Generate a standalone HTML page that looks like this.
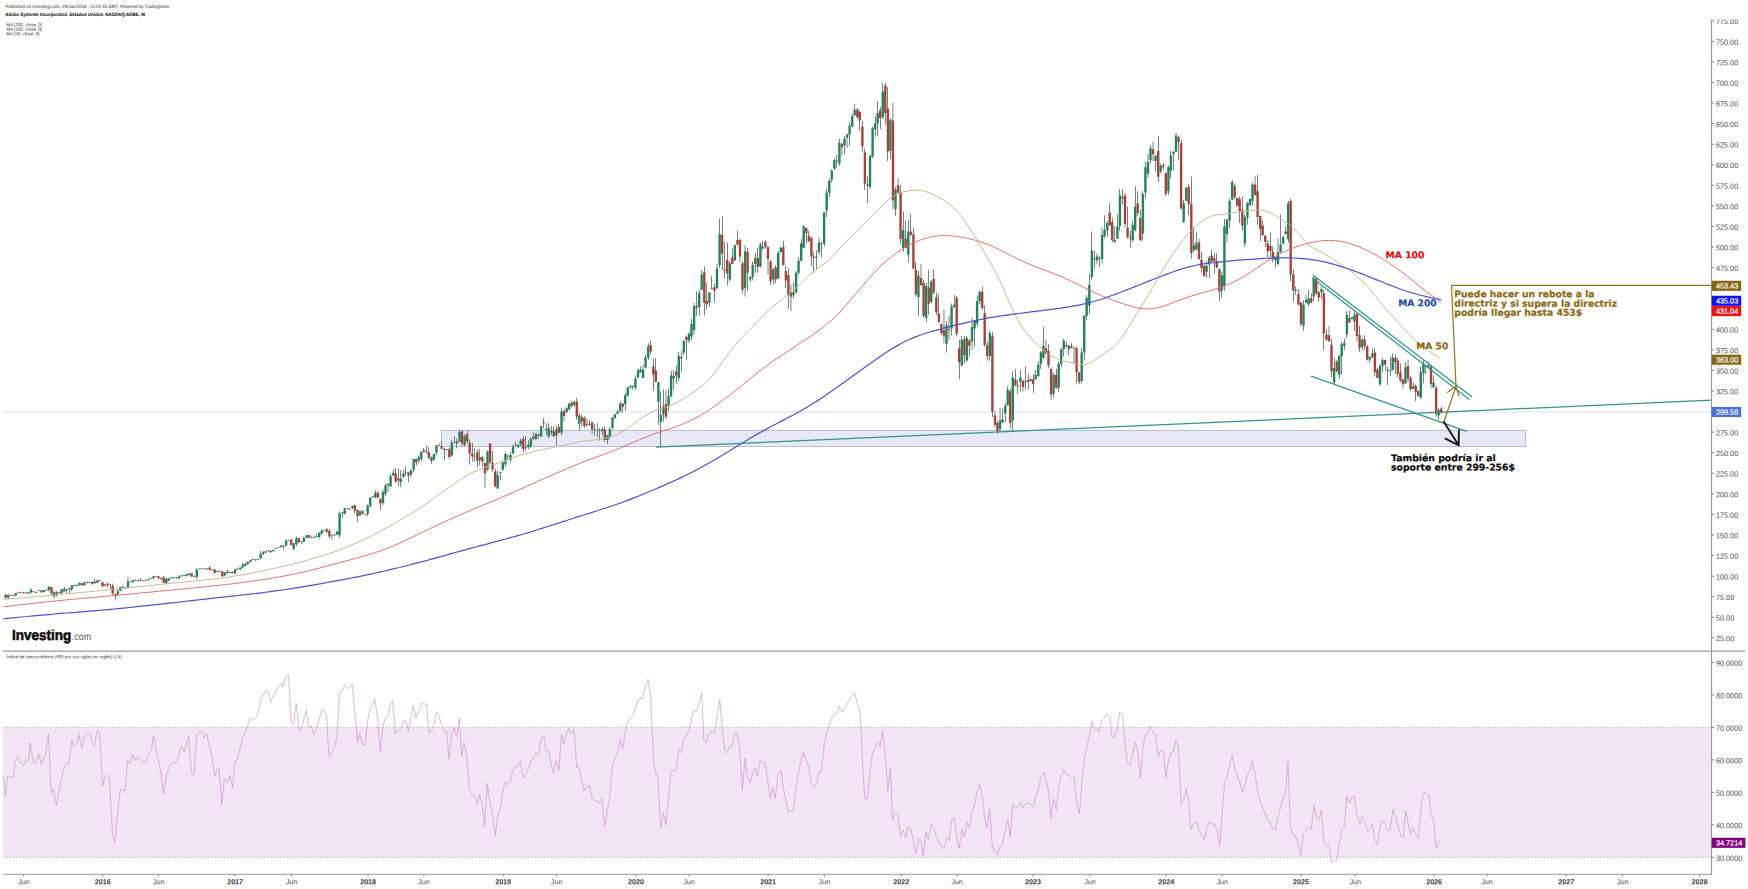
<!DOCTYPE html>
<html lang="es"><head><meta charset="utf-8"><title>ADBE</title>
<style>html,body{margin:0;padding:0;background:#fff}body{width:1748px;height:889px;overflow:hidden}svg{display:block}text{font-family:"Liberation Sans",Arial,sans-serif}text.an{font-family:"DejaVu Sans",Verdana,sans-serif;font-weight:bold}</style></head><body>
<svg width="1748" height="889" viewBox="0 0 1748 889">
<rect width="1748" height="889" fill="#fff"/>
<rect x="3" y="727.4" width="1708.5" height="130" fill="#f2e4f4"/>
<path d="M3 727.4H1711.5M3 857.4H1711.5" stroke="#bea7c3" stroke-width="0.8" stroke-dasharray="1.6 1.7" fill="none"/>
<path d="M3 411.95H1711.5" stroke="#e2e5f2" stroke-width="1.3" fill="none"/>
<rect x="441.3" y="430.4" width="1084.4" height="16.2" fill="#e7e9f6" stroke="#a9afd2" stroke-width="0.8"/>
<path d="M5.5 593.9V598.8M8.5 594.5V598.7M10.5 594.8V595.6M13.5 594.7V596.2M15.5 593V596.4M18.5 591.5V593.2M20.5 591.9V593.8M23.5 592.1V593.9M25.95 592.4V593.7M28.5 591.7V594.1M31.05 588.3V593.6M33.5 591.1V592.6M36.5 591.7V593.2M38.5 589.7V591.4M41.5 590.1V592.7M43.5 590V592.4M46.5 589.6V590.6M48.5 586.3V591.3M51.5 586.8V595.4M54 590.8V598.6M56.5 590.9V596.4M59.5 591.5V593.4M61.5 588.6V594.2M64.5 587V591.5M66.5 588.9V593M69.5 587.4V593M71.5 585V591M74.5 584.7V586.3M76.95 584.3V586.5M79.5 582.7V585.5M82.05 582.7V585.3M84.5 581.4V585.9M87.5 581.6V583.3M89.5 581.7V583.1M92.5 581.4V584.7M94.5 578.5V583.5M97.5 579.7V582.8M99.5 579.9V581.2M102.5 582.1V587.4M105 584.4V586.2M107.5 582.8V587.5M110.5 584.3V589.6M112.5 583.6V594.8M115.5 593.4V599.9M117.5 589.6V595.4M120.5 587V591M122.5 585.3V587.5M125.5 587.5V588.6M127.95 577.2V587.6M130.5 581V582.4M133.05 579.2V582.5M135.5 579.4V580.5M138.5 579.7V581.9M140.5 578V581.1M143.5 580.1V581.3M145.5 579.6V581M148.5 578.7V580.7M150.5 577.7V578.8M153.5 576.2V579M156 575.8V577.3M158.5 575.6V579.5M161.5 577.5V579.6M163.5 575.8V582.8M166.5 577.7V584.4M168.5 577.7V581.1M171.5 576.9V578.7M173.5 576.9V578.7M176.5 577V578.9M178.95 575.5V579.3M181.5 574.6V576.7M184.05 574.9V576.4M186.5 573.7V576.4M189.5 573.3V575.5M191.5 573V576.7M194.5 575.5V577.1M196.5 568.3V579.1M199.5 568.5V569.3M201.5 568.1V569.3M204.5 568.6V569.4M207 568.3V569.7M209.5 566.5V570.6M212.5 569.1V570.3M214.5 569.2V574M217.5 570.6V572.5M219.5 570.7V571.9M222.5 570.6V577.4M224.5 572V576.2M227.5 569.4V573.3M229.95 571.5V573.3M232.5 571.5V573.3M235.05 568.6V574.5M237.5 568.3V570.2M240.5 567.4V569.8M242.5 563.2V568.6M245.5 563V566M247.5 561.3V564.6M250.5 559.5V562.8M252.5 558.5V560.2M255.5 559V560.8M258 559V560.4M260.5 550.5V558.9M263.5 551.2V554.7M265.5 550.8V553.1M268.5 550.2V551.6M270.5 549.9V552.6M273.5 549.4V551.6M275.5 547.9V548.9M278.5 546.8V548.2M280.95 545.4V547.6M283.5 545.3V549.8M286.05 538.8V546.7M288.5 540V541.2M291.5 539.6V545.1M293.5 543.2V550.2M296.5 536.5V546.1M298.5 537.7V543.4M301.5 541.1V544.2M303.5 536.8V542.1M306.5 535.2V538.3M309 534.8V537.8M311.5 536.2V538.2M314.5 536.4V538.2M316.5 533.5V537.3M319.5 532.6V538.3M321.5 529.3V534.5M324.5 530.1V531.1M326.5 528V533M329.5 528.9V538.2M331.95 534.2V539.5M334.5 534.2V535.9M337.05 531.2V535.2M339.5 511.3V538M342.5 511.9V517.6M344.5 507.9V514.5M347.5 507.7V509.2M349.5 508.3V509.8M352.5 505.5V509.1M354.5 504.6V513.8M357.5 509.4V521.9M360 510.2V516.1M362.5 510V514.5M365.5 514.1V515M367.5 504.5V516M370.5 497.3V506.9M372.5 496.1V497.6M375.5 490.2V498.2M377.5 491.4V497.8M380.5 498.7V510.3M382.95 489.2V505.3M385.5 483.3V496.1M388.05 483.3V491.9M390.5 474V486.8M393.5 469.4V475.6M395.5 467.6V482.8M398.5 468.5V485.7M400.5 470.2V487.2M403.5 469.8V477.7M405.5 466.4V475.8M408.5 471.8V482.2M411 469.6V477.5M413.5 458.7V472.3M416.5 458.7V465.5M418.5 455.2V463.3M421.5 451.7V461.4M423.5 447.9V452.4M426.5 445.3V453.5M428.5 447V458.9M431.5 456.6V463.8M433.95 453.7V461M436.5 445.3V455.1M439.05 443.2V446.3M441.5 441V449.1M444.5 448.2V460.3M446.5 449.1V450.6M449.5 447.8V458.7M451.5 439.7V456.4M454.5 436.3V443.1M456.5 438.5V448.3M459.5 429.4V441.8M462 430.5V446.7M464.5 434.2V446.2M467.5 430.3V443.3M469.5 439.3V464.6M472.5 443.2V461.6M474.5 448.3V461.6M477.5 449.2V467.2M479.5 449.2V465.5M482.5 456V466.4M484.95 462.6V487.8M487.5 450.6V471.4M490.05 443.4V464.2M492.5 450.9V471.6M495.5 468.5V487.3M497.5 470.6V489.1M500.5 471.5V480.5M502.5 460.4V470.8M505.5 451.8V466.8M507.5 454.3V459.9M510.5 452.2V462.5M513 444.4V454.3M515.5 441.9V446.6M518.5 444V447.8M520.5 438.9V446.6M523.5 436.3V452.8M525.5 436.3V450.7M528.5 440.4V449.4M530.5 436.9V448M533.5 432.4V440.2M535.95 432.6V440.3M538.5 433.6V438.6M541.05 425.3V436.9M543.5 418V428.3M546.5 423.6V435.2M548.5 423.2V437.8M551.5 425.8V435.6M553.5 426.2V437.4M556.5 425.8V445.9M558.5 424.1V433M561.5 408.2V435.2M564 409V421.5M566.5 407.2V413.4M569.5 403.1V410.2M571.5 400.5V407.3M574.5 400.7V406.5M576.5 398V419.8M579.5 413.3V430.1M581.5 415V426.6M584.5 416.3V427.8M586.95 418.5V427.1M589.5 419.8V425.8M592.05 421.5V433.9M594.5 424.1V436.1M597.5 423.2V437.4M599.5 427.9V440.8M602.5 427.1V435.2M604.5 426.2V441.7M607.5 434.9V444.2M609.5 427.1V438.8M612.5 417.3V429.6M615 414.1V418.8M617.5 409.9V413.9M620.5 401.4V412.5M622.5 403.4V412.9M625.5 392.8V410.8M627.5 387.2V396.4M630.5 385.8V388.4M632.5 385.4V389.7M635.5 375.5V389.8M637.95 368.3V378.5M640.5 366.4V372.4M643.05 364.6V378.3M645.5 354.5V368.5M648.5 343.2V359.9M650.5 340.2V354.3M653.5 358.6V391.2M655.5 358.2V382.6M658.5 381.5V424.9M660.5 391.4V447.2M663.5 389.3V421.5M666 390.2V419.3M668.5 388.4V411.6M671.5 370.8V397.6M673.5 370.2V389.5M676.5 365.5V383.9M678.5 352V380.7M681.5 350.9V371.8M683.5 340.2V355.2M686.5 335.6V359.9M688.95 332.4V343.2M691.5 319V340.2M694.05 302.8V334.7M696.5 291.5V315.6M699.5 289.8V315.6M701.5 270V290.4M704.5 266.3V315.6M706.5 283V309.6M709.5 292V307M711.5 276.1V289.3M714.5 283.8V302.7M717 264.1V289.8M719.5 218.6V268.5M722.5 216V270.1M724.5 241.8V278.7M727.5 242.6V285.5M729.5 260.8V281.3M732.5 248.6V264.1M734.5 244.4V261.1M737.5 230.6V245.4M739.95 238.5V262.4M742.5 261.4V293.3M745.05 245.2V296.7M747.5 247.8V290.7M750.5 276.6V282.1M752.5 261.5V280.4M755.5 252.9V272.7M757.5 247.8V272.7M760.5 242.6V267.4M762.5 240.9V249.7M765.5 240.2V248.8M768 246.2V274.4M770.5 259.7V285.2M773.5 267.8V284.7M775.5 264.9V283M778.5 251.2V279M780.5 246.6V252.7M783.5 240.9V265.5M785.5 265.8V288.1M788.5 268.4V308.7M790.95 284.7V311.3M793.5 282.1V298.4M796.05 270.9V293.2M798.5 257.2V274.8M801.5 239.3V261.3M803.5 225.5V248.4M806.5 227.6V243.5M808.5 230.6V242.1M811.5 237.3V265.8M813.5 252.1V272.7M816.5 250.4V269.2M819 237.5V254.9M821.5 242.3V257.2M824.5 212.1V246.3M826.5 188.6V216.9M829.5 178.5V197.2M831.5 169.3V182.7M834.5 158.4V170.1M836.5 154.9V167.8M839.5 138.6V166.1M841.95 143.4V155.8M844.5 136.2V154.1M847.05 133.7V148.1M849.5 122.3V145.5M852.5 113.8V127.5M854.5 104.3V115.5M857.5 107.8V118.6M859.5 110.3V130.9M862.5 120.6V152.4M864.5 148.5V190.1M867.5 176.4V203.2M870 154.9V189.5M872.5 126.4V158.4M875.5 116.3V136.9M877.5 100.9V136.1M880.5 106.9V129.2M882.5 82.9V118.9M885.5 82.9V124.9M887.5 87.2V161M890.5 118.9V159.2M892.95 102.6V209.5M895.5 187.2V215.9M898.05 178.1V194.1M900.5 185V243.8M903.5 211.7V251.9M905.5 220.3V248.3M908.5 220.3V262.7M910.5 213.8V236M913.5 228.1V269.2M915.5 261.5V296.7M918.5 271V315.9M921 264.1V285.9M923.5 279.6V317.6M926.5 282.6V322.4M928.5 270.1V314.9M931.5 280.3V303.2M933.5 269.2V294.4M936.5 292.4V315M938.5 294.1V322.4M941.5 323.3V335M943.95 309.7V343.2M946.5 320.9V352.6M949.05 315.7V339.8M951.5 303.4V335.5M954.5 295.1V307.3M956.5 296V336.3M959.5 339.8V379.2M961.5 335.9V366.4M964.5 335.7V363.8M966.5 336.3V361.3M969.5 339V356.9M972 317.5V350.1M974.5 319.6V346.6M977.5 295.3V326.9M979.5 290.3V304.1M982.5 286.7V309.9M984.5 305.2V346.6M987.5 341.5V360.4M989.5 331.2V360.8M992.5 332V417M994.95 411V427.3M997.5 420.7V433.9M1000.05 407.6V431M1002.5 408.4V423.3M1005.5 403.3V422.1M1007.5 386.1V406M1010.5 388.6V428.1M1012.5 371.3V432.2M1015.5 368.9V386.3M1017.5 381V393.8M1020.5 369.8V391.3M1023 379.2V391.3M1025.5 366.4V390.4M1028.5 374.1V389.5M1030.5 378.3V381.8M1033.5 374.1V393M1035.5 369.8V379.8M1038.5 361.4V376.8M1040.5 350.9V368.9M1043.5 326.9V358.7M1045.95 339.8V354M1048.5 344.1V368.1M1051.05 367.2V399.9M1053.5 372.5V397.7M1056.5 368.9V388.8M1058.5 361.2V392.1M1061.5 348.3V366.8M1063.5 338.9V356.1M1066.5 341.5V346.7M1068.5 345.5V355.2M1071.5 343.2V348.6M1074 347.3V363.8M1076.5 346.6V383.5M1079.5 372V384.4M1081.5 347.6V383.5M1084.5 315V360.4M1086.5 295.3V320.2M1089.5 273.8V314.2M1091.5 231.5V279.8M1094.5 250.4V268.7M1096.95 253.2V264.4M1099.5 255.6V267M1102.05 227.3V263.7M1104.5 215.2V238.2M1107.5 221.3V236.9M1109.5 203.2V226M1112.5 217.8V242.2M1114.5 226.4V242.9M1117.5 214.4V239M1119.5 188.9V230.5M1122.5 188.9V204.3M1125 192.9V227.5M1127.5 206.7V238.7M1130.5 230.9V247.9M1132.5 220.6V241.8M1135.5 186.1V231.4M1137.5 191.2V216.3M1140.5 209.5V240.7M1142.5 191.5V240.7M1145.5 161.5V198.3M1147.95 153.5V177.7M1150.5 144.9V163.4M1153.05 141.5V161.2M1155.5 154.7V171.5M1158.5 136.3V182M1160.5 163.7V173.4M1163.5 162.9V169.8M1165.5 172.4V196.1M1168.5 165.5V195.3M1170.5 150.6V178.3M1173.5 151.4V170.6M1176 132.9V151.9M1178.5 135.4V160.3M1181.5 140.1V209.6M1183.5 199.8V223M1186.5 187V201.2M1188.5 184.4V215.2M1191.5 176.6V259M1193.5 227.3V251.9M1196.5 232.4V250.6M1198.95 238.6V259.7M1201.5 252.1V272.6M1204.05 265.4V276.9M1206.5 260.7V277.8M1209.5 256V278.6M1211.5 249.6V262.8M1214.5 253V273.5M1216.5 253V268.2M1219.5 268.3V300.9M1221.5 271.4V297.5M1224.5 218.7V291M1227 219V241.8M1229.5 198.9V228.1M1232.5 180.1V199.9M1234.5 183.5V199.4M1237.5 198.1V206.2M1239.5 196.4V223M1242.5 196.4V230.7M1244.5 214.8V246.9M1247.5 201.5V224.7M1249.95 198.5V206.3M1252.5 182.6V205.3M1255.05 175.8V196.5M1257.5 174.9V224.7M1260.5 215.6V241M1262.5 220.4V236.2M1265.5 235.3V247M1267.5 240.1V257.3M1270.5 232.4V257.2M1272.5 246.9V262.3M1275.5 256.7V267.5M1278 238.4V265.7M1280.5 214.4V252.7M1283.5 236.2V244.7M1285.5 226.4V234.5M1288.5 200.8V242.7M1290.5 198.9V281.2M1293.5 269.2V301.8M1295.5 286.3V294.9M1298.5 288.9V305.4M1300.95 302.3V326.2M1303.5 300.1V331M1306.05 294.9V303.4M1308.5 289.8V306.2M1311.5 293.2V303M1313.5 275.2V301.2M1316.5 277.1V294.8M1318.5 291.1V301.8M1321.5 286.3V299.2M1323.5 289.7V349.8M1326.5 329.2V340.9M1329 325.8V342M1331.5 338.4V377.5M1334.5 357.6V384.6M1336.5 359.9V372.3M1339.5 355.5V379M1341.5 341.5V374.6M1344.5 338.7V349.8M1346.5 311.2V337.9M1349.5 310.4V322.8M1351.95 316.9V319.7M1354.5 311.2V331M1357.05 312.9V341.3M1359.5 325.8V351.8M1362.5 338.1V349.8M1364.5 335.2V350.2M1367.5 345.2V360.6M1369.5 355.8V362.8M1372.5 348.7V358.5M1374.5 348.1V376.6M1377.5 368V378M1380 363.6V385.9M1382.5 358.1V372.3M1385.5 359.4V370.7M1387.5 366.8V385M1390.5 356.5V376.4M1392.5 353.3V370.6M1395.5 354.2V373.9M1397.5 357.7V377.6M1400.5 363.6V382.2M1402.95 379.5V388.4M1405.5 361.8V384.4M1408.05 359.7V381.9M1410.5 376V391.2M1413.5 382.5V389.1M1415.5 384.3V401.4M1418.5 390.4V396.6M1420.5 366.6V398.7M1423.5 360.5V383.3M1425.5 365.1V373.9M1428.5 362V368.2M1431 364.7V387.8M1433.5 375.4V388.2M1436.5 385.7V416.8M1438.5 407.7V419.5M1441.5 406.9V414" stroke="#66766f" stroke-width="0.9" fill="none"/>
<path d="M6.9 594.8h2.4v3h-2.4zM9.5 594.8h2.4v0.7h-2.4zM14.6 593h2.4v2.6h-2.4zM17.1 592.3h2.4v0.7h-2.4zM27.3 592.2h2.4v1.3h-2.4zM29.9 589.6h2.4v3h-2.4zM37.5 590.4h2.4v0.7h-2.4zM42.6 590h2.4v2.1h-2.4zM45.2 589.7h2.4v0.7h-2.4zM47.7 587h2.4v3h-2.4zM52.8 592.2h2.4v4.3h-2.4zM57.9 592.3h2.4v0.7h-2.4zM60.5 589.6h2.4v3.4h-2.4zM63 588.8h2.4v2.6h-2.4zM65.6 589.3h2.4v0.7h-2.4zM70.7 585.3h2.4v4.3h-2.4zM73.2 585.2h2.4v0.7h-2.4zM75.8 585h2.4v0.7h-2.4zM78.3 582.7h2.4v2.6h-2.4zM83.4 582.5h2.4v2.8h-2.4zM86 582.1h2.4v0.7h-2.4zM88.5 582h2.4v0.7h-2.4zM93.6 581.5h2.4v1.7h-2.4zM96.2 580.2h2.4v2.6h-2.4zM116.6 591.3h2.4v3.4h-2.4zM119.1 587h2.4v3.9h-2.4zM121.7 586.7h2.4v0.7h-2.4zM126.8 581.5h2.4v6h-2.4zM129.3 581.5h2.4v0.7h-2.4zM131.9 580.2h2.4v2.1h-2.4zM134.4 579.8h2.4v0.7h-2.4zM139.5 579.8h2.4v0.7h-2.4zM144.6 580.2h2.4v0.7h-2.4zM147.2 579.1h2.4v1h-2.4zM149.7 578h2.4v0.7h-2.4zM152.3 576.2h2.4v2.1h-2.4zM154.8 575.9h2.4v0.7h-2.4zM165 578.8h2.4v4.3h-2.4zM167.6 578.4h2.4v2.1h-2.4zM170.1 577.6h2.4v0.7h-2.4zM172.7 577.3h2.4v0.7h-2.4zM177.8 576.2h2.4v2.1h-2.4zM180.3 575.5h2.4v0.7h-2.4zM182.9 575h2.4v0.7h-2.4zM185.4 574.1h2.4v1.7h-2.4zM188 573.6h2.4v1.3h-2.4zM195.6 569.4h2.4v7.3h-2.4zM198.2 568.6h2.4v0.7h-2.4zM200.7 568.4h2.4v0.7h-2.4zM205.8 568.6h2.4v0.7h-2.4zM216 571.2h2.4v0.7h-2.4zM218.6 571.2h2.4v0.7h-2.4zM223.7 572.4h2.4v3h-2.4zM226.2 571.5h2.4v1.7h-2.4zM233.9 569.4h2.4v3.9h-2.4zM236.4 568.8h2.4v0.7h-2.4zM239 567.6h2.4v1.7h-2.4zM241.5 564.6h2.4v3h-2.4zM244.1 563.8h2.4v2.1h-2.4zM246.6 562.1h2.4v2.1h-2.4zM249.2 560.3h2.4v1.7h-2.4zM251.7 559.3h2.4v0.7h-2.4zM256.8 559.3h2.4v0.7h-2.4zM259.4 553.9h2.4v4.7h-2.4zM261.9 552.2h2.4v2.1h-2.4zM264.5 551.3h2.4v1.3h-2.4zM267 550.6h2.4v0.7h-2.4zM272.1 550h2.4v1.3h-2.4zM274.7 548h2.4v0.7h-2.4zM277.2 546.9h2.4v0.7h-2.4zM279.8 545.5h2.4v1.4h-2.4zM284.9 540.7h2.4v4.7h-2.4zM287.4 540.4h2.4v0.7h-2.4zM292.5 543.3h2.4v5.4h-2.4zM295.1 538.2h2.4v6h-2.4zM300.2 541.6h2.4v0.7h-2.4zM302.7 537.8h2.4v3.9h-2.4zM305.3 535.2h2.4v2.6h-2.4zM310.4 537h2.4v0.7h-2.4zM312.9 536.8h2.4v0.7h-2.4zM315.5 536.2h2.4v0.7h-2.4zM318 532.7h2.4v4.3h-2.4zM320.6 530.5h2.4v3h-2.4zM323.1 530.2h2.4v0.7h-2.4zM330.8 534.9h2.4v0.7h-2.4zM333.3 534.5h2.4v0.7h-2.4zM335.9 531.4h2.4v3h-2.4zM338.4 513.3h2.4v21.9h-2.4zM341 512.6h2.4v0.7h-2.4zM343.5 508.2h2.4v5.6h-2.4zM351.2 506h2.4v2.1h-2.4zM358.8 511.2h2.4v4.3h-2.4zM366.5 505.6h2.4v8.2h-2.4zM369 497.5h2.4v8.6h-2.4zM371.6 496.3h2.4v0.7h-2.4zM374.1 492.7h2.4v4.7h-2.4zM381.8 491.9h2.4v11.2h-2.4zM384.3 485.6h2.4v8.2h-2.4zM389.4 476.2h2.4v10.4h-2.4zM392 472.8h2.4v2.6h-2.4zM399.6 478.5h2.4v3.4h-2.4zM402.2 473.6h2.4v3.4h-2.4zM404.7 472h2.4v0.7h-2.4zM409.8 470.2h2.4v4.3h-2.4zM412.4 459.1h2.4v10.7h-2.4zM417.5 457.3h2.4v3.4h-2.4zM420 451.8h2.4v7.3h-2.4zM430.2 456.9h2.4v4.3h-2.4zM432.8 453.9h2.4v5.6h-2.4zM435.3 445.3h2.4v7.3h-2.4zM445.5 449.3h2.4v0.7h-2.4zM450.6 442.7h2.4v12.9h-2.4zM453.2 442h2.4v0.7h-2.4zM458.3 432h2.4v9.4h-2.4zM463.4 435.9h2.4v9h-2.4zM478.7 456.9h2.4v3.4h-2.4zM486.3 451.3h2.4v18.5h-2.4zM496.5 474.9h2.4v13.7h-2.4zM499.1 472h2.4v0.7h-2.4zM501.6 462.5h2.4v7.3h-2.4zM504.2 453.9h2.4v10.7h-2.4zM509.3 454.8h2.4v5.2h-2.4zM511.8 446.6h2.4v6.9h-2.4zM514.4 444.5h2.4v0.7h-2.4zM516.9 444.9h2.4v2.1h-2.4zM519.5 440.3h2.4v3.9h-2.4zM524.6 447h2.4v0.7h-2.4zM527.1 444.6h2.4v2.6h-2.4zM529.7 438.8h2.4v7.3h-2.4zM534.8 433.9h2.4v5.2h-2.4zM539.9 426.2h2.4v10.3h-2.4zM547.5 427.9h2.4v8.6h-2.4zM555.2 429.2h2.4v6.4h-2.4zM560.3 411.6h2.4v21h-2.4zM565.4 408.2h2.4v3.9h-2.4zM567.9 403.5h2.4v6h-2.4zM573 401.7h2.4v3h-2.4zM578.1 415.5h2.4v8.2h-2.4zM585.8 424.1h2.4v0.7h-2.4zM593.4 429.2h2.4v0.9h-2.4zM598.5 429.7h2.4v0.7h-2.4zM601.1 429.2h2.4v2.1h-2.4zM606.2 435.2h2.4v4.7h-2.4zM608.7 429.2h2.4v7.3h-2.4zM611.3 417.6h2.4v10.3h-2.4zM613.8 414.2h2.4v3.9h-2.4zM616.4 411.6h2.4v2.1h-2.4zM618.9 403.5h2.4v7.7h-2.4zM624 395.2h2.4v8.7h-2.4zM626.6 387.5h2.4v8.3h-2.4zM629.1 386h2.4v1.6h-2.4zM631.7 386.1h2.4v0.7h-2.4zM634.2 378.4h2.4v9.5h-2.4zM636.8 370.6h2.4v6.9h-2.4zM639.3 369.4h2.4v3h-2.4zM641.9 369.4h2.4v8.6h-2.4zM644.4 357.3h2.4v10.3h-2.4zM647 346.2h2.4v11.2h-2.4zM657.2 382.2h2.4v19.5h-2.4zM659.7 415h2.4v6.9h-2.4zM662.2 406h2.4v8.6h-2.4zM667.4 395.7h2.4v9.9h-2.4zM669.9 375.4h2.4v20.6h-2.4zM672.5 375.8h2.4v2.6h-2.4zM677.6 356h2.4v21.9h-2.4zM682.7 341h2.4v11.8h-2.4zM687.8 333.7h2.4v6.9h-2.4zM690.3 324.1h2.4v12.4h-2.4zM692.9 306.1h2.4v23.9h-2.4zM698 293.3h2.4v13.7h-2.4zM700.5 274.4h2.4v15.4h-2.4zM708.2 292.4h2.4v10.3h-2.4zM710.7 287.8h2.4v1h-2.4zM715.8 268.4h2.4v19.7h-2.4zM718.4 234.1h2.4v30.9h-2.4zM728.6 263.2h2.4v16.3h-2.4zM733.7 245.2h2.4v15.4h-2.4zM743.9 251.2h2.4v36.9h-2.4zM749 277h2.4v2.6h-2.4zM751.5 264.9h2.4v12h-2.4zM754.1 258.1h2.4v6h-2.4zM759.2 244.4h2.4v22.3h-2.4zM761.7 246.9h2.4v1.7h-2.4zM771.9 269.2h2.4v10.3h-2.4zM777 252.9h2.4v25.7h-2.4zM779.6 247.8h2.4v4.3h-2.4zM789.8 292.4h2.4v4.3h-2.4zM794.9 272.7h2.4v19.7h-2.4zM797.4 260.7h2.4v12h-2.4zM800 243.5h2.4v17.2h-2.4zM802.5 226.3h2.4v21.5h-2.4zM815.2 256.5h2.4v1h-2.4zM817.8 242.6h2.4v9.4h-2.4zM820.4 243.2h2.4v1h-2.4zM822.9 212.5h2.4v31h-2.4zM825.5 192.8h2.4v17.6h-2.4zM828 180.7h2.4v12.1h-2.4zM830.6 170.4h2.4v9.4h-2.4zM833.1 160.1h2.4v8.6h-2.4zM835.7 160.4h2.4v1h-2.4zM838.2 142.9h2.4v20.6h-2.4zM843.3 138.6h2.4v6.9h-2.4zM845.9 134.4h2.4v3.4h-2.4zM848.4 125.8h2.4v8.6h-2.4zM851 116.3h2.4v10.3h-2.4zM853.5 109.5h2.4v6h-2.4zM866.2 184.4h2.4v1.4h-2.4zM868.8 155.8h2.4v31h-2.4zM871.4 128.3h2.4v28.3h-2.4zM873.9 123.2h2.4v6h-2.4zM876.5 112.9h2.4v10.3h-2.4zM881.6 91.5h2.4v25.7h-2.4zM889.2 119.8h2.4v30.9h-2.4zM894.3 189.5h2.4v19.7h-2.4zM902 229.9h2.4v18h-2.4zM907.1 231.6h2.4v23.2h-2.4zM917.2 275.4h2.4v21.5h-2.4zM924.9 285.7h2.4v32.3h-2.4zM930 281.4h2.4v20.3h-2.4zM945.3 325.2h2.4v18.9h-2.4zM950.4 306.4h2.4v22.2h-2.4zM953 304.7h2.4v2.6h-2.4zM960.6 339.8h2.4v25.7h-2.4zM965.7 338.1h2.4v22.3h-2.4zM970.8 326.9h2.4v14.6h-2.4zM973.4 320.9h2.4v7.7h-2.4zM975.9 301.2h2.4v22.2h-2.4zM978.5 291.8h2.4v9.4h-2.4zM988.7 332.9h2.4v23.2h-2.4zM998.9 420.4h2.4v8.6h-2.4zM1001.4 419.6h2.4v2.6h-2.4zM1004 405.8h2.4v7.7h-2.4zM1006.5 389.5h2.4v15.4h-2.4zM1011.6 377.5h2.4v42.9h-2.4zM1019.2 377.5h2.4v4.3h-2.4zM1026.9 380.1h2.4v1.7h-2.4zM1034.5 374.9h2.4v4.3h-2.4zM1037.1 364.7h2.4v11.2h-2.4zM1039.7 352.6h2.4v11.2h-2.4zM1042.2 345.8h2.4v12h-2.4zM1052.4 374.9h2.4v18.9h-2.4zM1057.5 363.8h2.4v24h-2.4zM1060 349.2h2.4v14.6h-2.4zM1062.6 340.6h2.4v8.6h-2.4zM1067.7 345.8h2.4v3.4h-2.4zM1080.5 352.6h2.4v28.3h-2.4zM1083 315.8h2.4v36.8h-2.4zM1085.5 297.8h2.4v18h-2.4zM1088.1 285h2.4v20.5h-2.4zM1090.7 250.5h2.4v26.7h-2.4zM1095.8 256.5h2.4v3.9h-2.4zM1098.3 257.8h2.4v1h-2.4zM1100.9 235.1h2.4v24h-2.4zM1103.4 229.9h2.4v6.4h-2.4zM1106 223.1h2.4v7.3h-2.4zM1113.6 240h2.4v1.8h-2.4zM1116.2 226.5h2.4v12h-2.4zM1118.7 195.2h2.4v30.9h-2.4zM1131.5 224.8h2.4v15.4h-2.4zM1134 206.8h2.4v23.2h-2.4zM1141.7 193.9h2.4v39.5h-2.4zM1144.2 167.2h2.4v25.4h-2.4zM1146.8 162h2.4v11.7h-2.4zM1149.3 148.3h2.4v12h-2.4zM1154.4 156h2.4v5.1h-2.4zM1159.5 165.5h2.4v6h-2.4zM1167.2 167.2h2.4v24.1h-2.4zM1169.7 155.2h2.4v15.4h-2.4zM1172.2 151.7h2.4v2.6h-2.4zM1174.8 135.4h2.4v16.3h-2.4zM1182.5 203.2h2.4v18.9h-2.4zM1185 187.8h2.4v12.9h-2.4zM1192.7 245.2h2.4v5.1h-2.4zM1195.2 242.7h2.4v6.8h-2.4zM1205.4 265.8h2.4v5.9h-2.4zM1208 258.1h2.4v6.4h-2.4zM1220.7 275.2h2.4v15.4h-2.4zM1223.2 226.4h2.4v59.9h-2.4zM1225.8 219.5h2.4v14.5h-2.4zM1228.4 200.7h2.4v19.7h-2.4zM1230.9 181.8h2.4v18h-2.4zM1243.7 217h2.4v26.5h-2.4zM1246.2 203.2h2.4v14.6h-2.4zM1248.8 198.9h2.4v6h-2.4zM1251.3 184.4h2.4v16.3h-2.4zM1274.2 256.8h2.4v3.4h-2.4zM1276.8 252.1h2.4v12h-2.4zM1279.4 244.4h2.4v7.7h-2.4zM1281.9 236.7h2.4v6.8h-2.4zM1287 203.2h2.4v36h-2.4zM1294.7 290.1h2.4v1h-2.4zM1302.3 304.4h2.4v21.5h-2.4zM1304.9 300.1h2.4v2.6h-2.4zM1307.4 298.3h2.4v6h-2.4zM1312.5 278.6h2.4v18h-2.4zM1320.2 288.9h2.4v3.4h-2.4zM1332.9 367.9h2.4v14.6h-2.4zM1338 355.8h2.4v18.9h-2.4zM1340.5 344.3h2.4v11.9h-2.4zM1343.1 342.7h2.4v3.3h-2.4zM1345.7 314.7h2.4v19.7h-2.4zM1350.8 317.2h2.4v1.7h-2.4zM1353.3 314.7h2.4v6.9h-2.4zM1361 339.5h2.4v7.6h-2.4zM1368.6 357h2.4v2.5h-2.4zM1371.2 353.3h2.4v3.7h-2.4zM1378.8 366.1h2.4v18.1h-2.4zM1381.3 359.9h2.4v6.2h-2.4zM1389 370.3h2.4v1h-2.4zM1391.5 357.4h2.4v12.7h-2.4zM1404.3 367.3h2.4v16h-2.4zM1412 386.2h2.4v2.7h-2.4zM1419.6 372.3h2.4v25.2h-2.4zM1422.2 363.6h2.4v9.4h-2.4zM1427.2 365.2h2.4v2.4h-2.4zM1432.3 382.5h2.4v4.7h-2.4zM1437.5 410.1h2.4v5.5h-2.4z" fill="#27825c"/>
<path d="M4.4 594.8h2.4v3h-2.4zM12 595h2.4v0.7h-2.4zM19.7 592.4h2.4v0.7h-2.4zM22.2 592.4h2.4v0.7h-2.4zM24.8 592.6h2.4v0.7h-2.4zM32.4 591.4h2.4v0.7h-2.4zM35 592.1h2.4v0.7h-2.4zM40.1 590.5h2.4v1.7h-2.4zM50.3 587h2.4v6.4h-2.4zM55.4 592.2h2.4v3.4h-2.4zM68.1 588.3h2.4v1.3h-2.4zM80.9 583.2h2.4v2.1h-2.4zM91.1 581.9h2.4v2.1h-2.4zM98.7 580.1h2.4v0.7h-2.4zM101.3 582.3h2.4v3.9h-2.4zM103.8 584.5h2.4v1.3h-2.4zM106.4 583.6h2.4v1.3h-2.4zM108.9 584.5h2.4v0.7h-2.4zM111.5 585.8h2.4v7.7h-2.4zM114 594.3h2.4v1.3h-2.4zM124.2 587.6h2.4v0.7h-2.4zM137 580.1h2.4v0.7h-2.4zM142.1 580.1h2.4v0.7h-2.4zM157.4 576.2h2.4v2.1h-2.4zM159.9 577.9h2.4v1.3h-2.4zM162.5 577.5h2.4v5.2h-2.4zM175.2 577.6h2.4v0.7h-2.4zM190.5 573.2h2.4v3.4h-2.4zM193.1 576.3h2.4v0.7h-2.4zM203.3 568.6h2.4v0.7h-2.4zM208.4 567.6h2.4v2.1h-2.4zM210.9 569.4h2.4v0.9h-2.4zM213.5 569.4h2.4v3.4h-2.4zM221.1 571.5h2.4v4.7h-2.4zM228.8 572h2.4v0.7h-2.4zM231.3 571.9h2.4v1.3h-2.4zM254.3 559.6h2.4v0.7h-2.4zM269.6 550.9h2.4v1.3h-2.4zM282.3 545.5h2.4v1h-2.4zM290 539.6h2.4v5.4h-2.4zM297.6 538.2h2.4v3.9h-2.4zM307.8 535.1h2.4v2.7h-2.4zM325.7 529.2h2.4v2.6h-2.4zM328.2 530.9h2.4v5.6h-2.4zM346.1 508.1h2.4v0.7h-2.4zM348.6 508.7h2.4v0.7h-2.4zM353.7 505.6h2.4v5.2h-2.4zM356.3 509.9h2.4v6h-2.4zM361.4 511.2h2.4v2.6h-2.4zM363.9 514.3h2.4v0.7h-2.4zM376.7 492.7h2.4v4.7h-2.4zM379.2 498.7h2.4v4.7h-2.4zM386.9 484.1h2.4v1.5h-2.4zM394.5 473.6h2.4v7.8h-2.4zM397.1 478.5h2.4v2.1h-2.4zM407.3 472.4h2.4v3h-2.4zM414.9 459.1h2.4v3.4h-2.4zM422.6 450h2.4v1.7h-2.4zM425.1 451.8h2.4v0.7h-2.4zM427.7 452.2h2.4v5.6h-2.4zM437.9 445.4h2.4v0.7h-2.4zM440.4 446.2h2.4v2.6h-2.4zM443 448.8h2.4v1.3h-2.4zM448.1 449.2h2.4v7.7h-2.4zM455.7 441.5h2.4v2.1h-2.4zM460.8 431.2h2.4v12.4h-2.4zM465.9 434.2h2.4v7.3h-2.4zM468.5 442.7h2.4v10.7h-2.4zM471 453.5h2.4v3h-2.4zM473.6 455.7h2.4v0.7h-2.4zM476.1 452.2h2.4v8.6h-2.4zM481.2 457.3h2.4v4.3h-2.4zM483.8 462.9h2.4v10.3h-2.4zM488.9 443.6h2.4v18.9h-2.4zM491.4 462.9h2.4v6.4h-2.4zM494 471.5h2.4v15h-2.4zM506.7 456.4h2.4v0.7h-2.4zM522 439h2.4v9.9h-2.4zM532.2 436.4h2.4v2.6h-2.4zM537.3 433.9h2.4v1.7h-2.4zM542.4 421.9h2.4v1.3h-2.4zM545 429.3h2.4v0.7h-2.4zM550.1 430.9h2.4v1.7h-2.4zM552.6 431.4h2.4v4.7h-2.4zM557.7 427.1h2.4v5.6h-2.4zM562.8 411.2h2.4v4.7h-2.4zM570.5 403h2.4v3h-2.4zM575.6 401.7h2.4v15h-2.4zM580.7 417.2h2.4v4.3h-2.4zM583.2 418h2.4v8.2h-2.4zM588.3 424.1h2.4v0.7h-2.4zM590.9 422.3h2.4v7.3h-2.4zM596 430.2h2.4v0.7h-2.4zM603.6 429.6h2.4v10.3h-2.4zM621.5 403.5h2.4v3.4h-2.4zM649.5 345.3h2.4v6.4h-2.4zM652.1 366.4h2.4v8.2h-2.4zM654.6 370.6h2.4v11.2h-2.4zM664.8 403.9h2.4v12.9h-2.4zM675 371.5h2.4v3.9h-2.4zM680.1 356.8h2.4v1.6h-2.4zM685.2 336.9h2.4v3.2h-2.4zM695.4 306.1h2.4v1.7h-2.4zM703.1 271.8h2.4v30.9h-2.4zM705.6 301h2.4v3.4h-2.4zM713.2 287.3h2.4v3.4h-2.4zM720.9 234.9h2.4v18.9h-2.4zM723.5 269.6h2.4v1h-2.4zM726 259.8h2.4v13.7h-2.4zM731.1 257.2h2.4v6.9h-2.4zM736.2 240.1h2.4v4.3h-2.4zM738.8 240.1h2.4v16.3h-2.4zM741.3 263.2h2.4v26.6h-2.4zM746.4 252.1h2.4v20.6h-2.4zM756.6 258.1h2.4v8.6h-2.4zM764.2 241.8h2.4v5.1h-2.4zM766.8 246.9h2.4v12h-2.4zM769.4 261.5h2.4v19.7h-2.4zM774.5 267.5h2.4v12h-2.4zM782.1 246.9h2.4v18h-2.4zM784.7 271h2.4v9.4h-2.4zM787.2 275.2h2.4v19.7h-2.4zM792.3 292.4h2.4v2.6h-2.4zM805.1 228.1h2.4v5.1h-2.4zM807.6 235.8h2.4v5.1h-2.4zM810.2 237.5h2.4v18.9h-2.4zM812.7 256.9h2.4v1h-2.4zM840.8 143.8h2.4v3.4h-2.4zM856.1 109.5h2.4v7.7h-2.4zM858.6 112h2.4v8.6h-2.4zM861.2 126.6h2.4v19.7h-2.4zM863.7 152.4h2.4v31.4h-2.4zM879 110.3h2.4v7.7h-2.4zM884.1 85.4h2.4v27.5h-2.4zM886.7 108.6h2.4v42.9h-2.4zM891.8 120.6h2.4v80h-2.4zM896.9 185.2h2.4v7.2h-2.4zM899.4 192.1h2.4v46.9h-2.4zM904.5 238.5h2.4v9.4h-2.4zM909.6 231.6h2.4v3.4h-2.4zM912.2 234.2h2.4v34.3h-2.4zM914.7 269.4h2.4v24.9h-2.4zM919.8 278h2.4v6.9h-2.4zM922.4 283.1h2.4v32.6h-2.4zM927.5 287.4h2.4v16.3h-2.4zM932.5 278.8h2.4v14h-2.4zM935.1 297.4h2.4v14.9h-2.4zM937.7 313.4h2.4v8.7h-2.4zM940.2 324.3h2.4v8.6h-2.4zM942.8 330.3h2.4v6h-2.4zM947.9 329h2.4v1h-2.4zM955.5 297.8h2.4v36h-2.4zM958 348.3h2.4v13.7h-2.4zM963.2 338.9h2.4v16.3h-2.4zM968.2 340.6h2.4v5.1h-2.4zM981 291.8h2.4v16.3h-2.4zM983.5 313.2h2.4v31.7h-2.4zM986.1 344.9h2.4v11.2h-2.4zM991.2 336.3h2.4v75.5h-2.4zM993.8 415.3h2.4v9.4h-2.4zM996.3 423h2.4v8.6h-2.4zM1009 391.3h2.4v31.7h-2.4zM1014.2 379.2h2.4v6h-2.4zM1016.7 385.6h2.4v1h-2.4zM1021.8 381h2.4v6h-2.4zM1024.4 381.3h2.4v1h-2.4zM1029.5 379.2h2.4v1.7h-2.4zM1032 379.2h2.4v5.1h-2.4zM1044.8 348.3h2.4v5.1h-2.4zM1047.3 350.9h2.4v14.6h-2.4zM1049.9 368.9h2.4v25.7h-2.4zM1055 374.9h2.4v12.9h-2.4zM1065.2 344.9h2.4v1.7h-2.4zM1070.2 345.8h2.4v1.7h-2.4zM1072.8 347.8h2.4v1h-2.4zM1075.4 348.3h2.4v24h-2.4zM1077.9 372.4h2.4v9.4h-2.4zM1093.2 258.6h2.4v1h-2.4zM1108.5 212.4h2.4v12.9h-2.4zM1111 222.2h2.4v18h-2.4zM1121.2 197.1h2.4v1.4h-2.4zM1123.8 195.6h2.4v28.3h-2.4zM1126.4 227.4h2.4v9.9h-2.4zM1128.9 237.6h2.4v1h-2.4zM1136.5 203.3h2.4v9.9h-2.4zM1139.1 217.9h2.4v22.3h-2.4zM1151.9 149.2h2.4v5.1h-2.4zM1157 150.9h2.4v25.9h-2.4zM1162 165.5h2.4v1.7h-2.4zM1164.6 173.3h2.4v20.6h-2.4zM1177.4 137.2h2.4v5.1h-2.4zM1179.9 143.2h2.4v65.2h-2.4zM1187.5 186.9h2.4v17.2h-2.4zM1190.1 204.1h2.4v48.8h-2.4zM1197.8 242.2h2.4v16.7h-2.4zM1200.3 259.8h2.4v8.2h-2.4zM1202.9 265.8h2.4v10.2h-2.4zM1210.5 255.5h2.4v6h-2.4zM1213 258.3h2.4v2.7h-2.4zM1215.6 261.1h2.4v6.4h-2.4zM1218.2 269.2h2.4v22.2h-2.4zM1233.5 186.1h2.4v11.2h-2.4zM1236 198.1h2.4v7.7h-2.4zM1238.5 198.9h2.4v12h-2.4zM1241.1 210.1h2.4v15.4h-2.4zM1253.9 184.4h2.4v10.3h-2.4zM1256.4 191.2h2.4v25.7h-2.4zM1259 216.1h2.4v12.9h-2.4zM1261.5 225.5h2.4v9.4h-2.4zM1264 235.8h2.4v5.9h-2.4zM1266.6 243.5h2.4v7.7h-2.4zM1269.2 246.1h2.4v4.7h-2.4zM1271.7 251.6h2.4v7.7h-2.4zM1284.5 231.5h2.4v2.6h-2.4zM1289.5 200.7h2.4v73.7h-2.4zM1292.1 274.3h2.4v16.3h-2.4zM1297.2 294.1h2.4v10.3h-2.4zM1299.8 302.6h2.4v21.5h-2.4zM1310 298.3h2.4v4.3h-2.4zM1315 278.6h2.4v14.6h-2.4zM1317.6 292.3h2.4v5.1h-2.4zM1322.7 293.2h2.4v40.3h-2.4zM1325.2 334.4h2.4v5.1h-2.4zM1327.8 335.2h2.4v6h-2.4zM1330.3 344.7h2.4v26.6h-2.4zM1335.5 361.8h2.4v9.4h-2.4zM1348.2 318.1h2.4v4.3h-2.4zM1355.8 313.8h2.4v22.3h-2.4zM1358.4 335.2h2.4v12.7h-2.4zM1363.5 339.5h2.4v6.8h-2.4zM1366 346.4h2.4v13.1h-2.4zM1373.7 352.5h2.4v19.7h-2.4zM1376.2 369.4h2.4v8.6h-2.4zM1383.9 359.9h2.4v4.5h-2.4zM1386.5 369.7h2.4v1h-2.4zM1394.1 357.8h2.4v4.1h-2.4zM1396.7 360.7h2.4v13.1h-2.4zM1399.2 372.6h2.4v7.8h-2.4zM1401.8 379.6h2.4v4.5h-2.4zM1406.8 366.1h2.4v12.3h-2.4zM1409.4 378h2.4v11.1h-2.4zM1414.5 385.7h2.4v6.3h-2.4zM1417 391.2h2.4v4.7h-2.4zM1424.7 365.5h2.4v0.9h-2.4zM1429.8 366.8h2.4v17.3h-2.4zM1434.9 388h2.4v26h-2.4zM1440 408.5h2.4v3.6h-2.4z" fill="#a0453b"/>
<path d="M3.4 599.5C4.3 599.5 6.8 599.2 8.4 599.1C10.1 598.9 11.8 598.8 13.4 598.6C15.1 598.5 16.8 598.3 18.4 598.2C20.1 598 21.8 597.9 23.4 597.8C25.1 597.6 26.8 597.5 28.4 597.3C30.1 597.2 31.8 597 33.4 596.9C35.1 596.7 36.8 596.6 38.4 596.4C40.1 596.3 41.8 596.1 43.4 596C45.1 595.8 46.8 595.7 48.4 595.5C50.1 595.4 51.8 595.2 53.4 595.1C55.1 594.9 56.8 594.7 58.4 594.6C60.1 594.4 61.8 594.3 63.4 594.1C65.1 594 66.8 593.8 68.4 593.6C70.1 593.5 71.8 593.3 73.4 593.2C75.1 593 76.8 592.9 78.4 592.7C80.1 592.5 81.8 592.4 83.4 592.2C85.1 592.1 86.8 591.9 88.4 591.8C90.1 591.6 91.8 591.4 93.4 591.3C95.1 591.1 96.8 591 98.4 590.8C100.1 590.7 101.8 590.5 103.4 590.3C105.1 590.2 106.8 590 108.4 589.9C110.1 589.7 111.8 589.5 113.4 589.4C115.1 589.2 116.8 589 118.4 588.9C120.1 588.7 121.8 588.5 123.4 588.3C125.1 588.2 126.8 588 128.4 587.8C130.1 587.6 131.8 587.4 133.4 587.3C135.1 587.1 136.8 586.9 138.4 586.7C140.1 586.6 141.8 586.4 143.4 586.2C145.1 586 146.8 585.9 148.4 585.7C150.1 585.5 151.8 585.3 153.4 585.2C155.1 585 156.8 584.8 158.4 584.6C160.1 584.5 161.8 584.3 163.4 584.1C165.1 583.9 166.8 583.7 168.4 583.6C170.1 583.4 171.8 583.2 173.4 583.1C175.1 582.9 176.8 582.7 178.4 582.6C180.1 582.4 181.8 582.2 183.4 582.1C185.1 581.9 186.8 581.7 188.4 581.6C190.1 581.4 191.8 581.2 193.4 581.1C195.1 580.9 196.8 580.7 198.4 580.6C200.1 580.4 201.8 580.2 203.4 580.1C205.1 579.9 206.8 579.7 208.4 579.6C210.1 579.4 211.8 579.2 213.4 579.1C215.1 578.9 216.8 578.7 218.4 578.5C220.1 578.4 221.8 578.1 223.4 577.9C225.1 577.7 226.8 577.4 228.4 577.2C230.1 576.9 231.8 576.6 233.4 576.3C235.1 576 236.8 575.7 238.4 575.4C240.1 575.1 241.8 574.8 243.4 574.5C245.1 574.2 246.8 573.9 248.4 573.7C250.1 573.4 251.8 573.1 253.4 572.8C255.1 572.4 256.8 572.1 258.4 571.8C260.1 571.4 261.8 571.1 263.4 570.7C265.1 570.4 266.8 570 268.4 569.6C270.1 569.2 271.8 568.9 273.4 568.5C275.1 568.1 276.8 567.7 278.4 567.4C280.1 567 281.8 566.6 283.4 566.2C285.1 565.9 286.8 565.5 288.4 565.1C290.1 564.7 291.8 564.4 293.4 564C295.1 563.6 296.8 563.2 298.4 562.8C300.1 562.3 301.8 561.9 303.4 561.4C305.1 560.9 306.8 560.4 308.4 559.9C310.1 559.4 311.8 558.9 313.4 558.4C315.1 557.9 316.8 557.4 318.4 556.9C320.1 556.4 321.8 555.9 323.4 555.4C325.1 554.9 326.8 554.4 328.4 553.8C330.1 553.3 331.8 552.8 333.4 552.2C335.1 551.6 336.8 551 338.4 550.4C340.1 549.7 341.8 549 343.4 548.3C345.1 547.6 346.8 546.9 348.4 546.2C350.1 545.6 351.8 544.9 353.4 544.2C355.1 543.5 356.8 542.8 358.4 542.1C360.1 541.4 361.8 540.7 363.4 539.9C365.1 539.1 366.8 538.3 368.4 537.5C370.1 536.7 371.8 535.8 373.4 534.9C375.1 534.1 376.8 533.2 378.4 532.3C380.1 531.4 381.8 530.5 383.4 529.6C385.1 528.7 386.8 527.8 388.4 526.9C390.1 526 391.8 525 393.4 524.1C395.1 523.1 396.8 522.1 398.4 521.1C400.1 520.2 401.8 519.1 403.4 518.1C405.1 517.1 406.8 516.2 408.4 515.1C410.1 514.1 411.8 513.2 413.4 512.1C415.1 511.1 416.8 510 418.4 508.9C420.1 507.8 421.8 506.7 423.4 505.5C425.1 504.4 426.8 503.2 428.4 502C430.1 500.9 431.8 499.7 433.4 498.5C435.1 497.4 436.8 496.2 438.4 495C440.1 493.9 441.8 492.7 443.4 491.5C445.1 490.4 446.8 489.2 448.4 488C450.1 486.9 451.8 485.7 453.4 484.5C455.1 483.4 456.8 482.2 458.4 481C460.1 479.9 461.8 478.6 463.4 477.5C465.1 476.4 466.8 475.4 468.4 474.5C470.1 473.6 471.8 472.7 473.4 472C475.1 471.2 476.8 470.6 478.4 469.9C480.1 469.3 481.8 468.6 483.4 468C485.1 467.4 486.8 466.8 488.4 466.3C490.1 465.7 491.8 465.2 493.4 464.7C495.1 464.2 496.8 463.7 498.4 463.2C500.1 462.6 501.8 462.1 503.4 461.5C505.1 460.9 506.8 460.3 508.4 459.6C510.1 459 511.8 458.3 513.4 457.6C515.1 457 516.8 456.4 518.4 455.8C520.1 455.2 521.8 454.7 523.4 454.2C525.1 453.7 526.8 453.3 528.4 452.9C530.1 452.4 531.8 452 533.4 451.6C535.1 451.2 536.8 450.9 538.4 450.5C540.1 450.1 541.8 449.8 543.4 449.4C545.1 449.1 546.8 448.8 548.4 448.4C550.1 448.1 551.8 447.7 553.4 447.4C555.1 447 556.8 446.7 558.4 446.3C560.1 446 561.8 445.6 563.4 445.2C565.1 444.9 566.8 444.5 568.4 444.1C570.1 443.7 571.8 443.3 573.4 443C575.1 442.6 576.8 442.2 578.4 441.9C580.1 441.6 581.8 441.4 583.4 441.1C585.1 440.9 586.8 440.8 588.4 440.6C590.1 440.4 591.8 440.3 593.4 440.1C595.1 439.9 596.8 439.7 598.4 439.5C600.1 439.2 601.8 439 603.4 438.7C605.1 438.3 606.8 437.9 608.4 437.5C610.1 437.1 611.8 436.6 613.4 436C615.1 435.4 616.8 434.6 618.4 433.8C620.1 433 621.8 432.1 623.4 431C625.1 430 626.8 428.7 628.4 427.6C630.1 426.4 631.8 425.2 633.4 424C635.1 422.8 636.8 421.5 638.4 420.3C640.1 419.2 641.8 417.9 643.4 416.9C645.1 415.8 646.8 414.8 648.4 413.9C650.1 412.9 651.8 412 653.4 411.3C655.1 410.5 656.8 409.9 658.4 409.4C660.1 408.8 661.8 408.3 663.4 407.8C665.1 407.2 666.8 406.8 668.4 406.2C670.1 405.6 671.8 404.9 673.4 404.2C675.1 403.4 676.8 402.5 678.4 401.6C680.1 400.7 681.8 399.7 683.4 398.7C685.1 397.6 686.8 396.5 688.4 395.4C690.1 394.3 691.8 393.2 693.4 392.1C695.1 391 696.8 389.8 698.4 388.6C700.1 387.4 701.8 386.2 703.4 384.8C705.1 383.5 706.8 382 708.4 380.3C710.1 378.5 711.8 376.6 713.4 374.5C715.1 372.4 716.8 370 718.4 367.6C720.1 365.3 721.8 362.9 723.4 360.5C725.1 358.2 726.8 356 728.4 353.8C730.1 351.6 731.8 349.4 733.4 347.3C735.1 345.2 736.8 343.3 738.4 341.4C740.1 339.5 741.8 337.7 743.4 335.9C745.1 334.2 746.8 332.6 748.4 330.9C750.1 329.3 751.8 327.6 753.4 325.9C755.1 324.2 756.8 322.5 758.4 320.8C760.1 319.1 761.8 317.2 763.4 315.5C765.1 313.8 766.8 312.2 768.4 310.6C770.1 309 771.8 307.6 773.4 306.2C775.1 304.8 776.8 303.6 778.4 302.3C780.1 301 781.8 299.7 783.4 298.4C785.1 297.1 786.8 295.9 788.4 294.5C790.1 293.2 791.8 291.8 793.4 290.3C795.1 288.9 796.8 287.4 798.4 285.8C800.1 284.2 801.8 282.5 803.4 280.9C805.1 279.2 806.8 277.6 808.4 276C810.1 274.5 811.8 273.1 813.4 271.7C815.1 270.4 816.8 269.1 818.4 267.9C820.1 266.7 821.8 265.7 823.4 264.4C825.1 263.1 826.8 261.8 828.4 260.3C830.1 258.8 831.8 257.2 833.4 255.5C835.1 253.8 836.8 251.8 838.4 250C840.1 248.2 841.8 246.4 843.4 244.6C845.1 242.8 846.8 241.1 848.4 239.4C850.1 237.6 851.8 236 853.4 234.3C855.1 232.6 856.8 231 858.4 229.3C860.1 227.6 861.8 226 863.4 224.3C865.1 222.6 866.8 221 868.4 219.3C870.1 217.6 871.8 215.9 873.4 214.3C875.1 212.6 876.8 211 878.4 209.4C880.1 207.7 881.8 206.1 883.4 204.6C885.1 203 886.8 201.4 888.4 200C890.1 198.6 891.8 197.3 893.4 196.2C895.1 195.1 896.8 194.1 898.4 193.4C900.1 192.6 901.8 192.2 903.4 191.8C905.1 191.4 906.8 191.1 908.4 190.9C910.1 190.6 911.8 190.4 913.4 190.3C915.1 190.2 916.8 190.1 918.4 190.2C920.1 190.3 921.8 190.6 923.4 191C925.1 191.4 926.8 192 928.4 192.6C930.1 193.2 931.8 193.8 933.4 194.6C935.1 195.3 936.8 196.2 938.4 197.1C940.1 198 941.8 199 943.4 200C945.1 201 946.8 202.1 948.4 203.3C950.1 204.6 951.8 206 953.4 207.5C955.1 209 956.8 210.7 958.4 212.6C960.1 214.5 961.8 216.7 963.4 219C965.1 221.3 966.8 223.7 968.4 226.2C970.1 228.8 971.8 231.5 973.4 234.2C975.1 236.9 976.8 239.7 978.4 242.5C980.1 245.3 981.8 248.1 983.4 250.9C985.1 253.6 986.8 256.3 988.4 259.2C990.1 262 991.8 264.8 993.4 267.9C995.1 271.1 996.8 274.4 998.4 277.9C1000.1 281.4 1001.8 285.1 1003.4 288.8C1005.1 292.6 1006.8 296.5 1008.4 300.3C1010.1 304 1011.8 307.9 1013.4 311.3C1015.1 314.8 1016.8 317.9 1018.4 320.8C1020.1 323.8 1021.8 326.4 1023.4 328.8C1025.1 331.1 1026.8 333 1028.4 335C1030.1 337 1031.8 338.9 1033.4 340.7C1035.1 342.5 1036.8 344.2 1038.4 345.8C1040.1 347.3 1041.8 348.7 1043.4 350C1045.1 351.4 1046.8 352.6 1048.4 353.7C1050.1 354.8 1051.8 355.9 1053.4 356.8C1055.1 357.7 1056.8 358.5 1058.4 359.2C1060.1 359.8 1061.8 360.4 1063.4 360.8C1065.1 361.3 1066.8 361.6 1068.4 362C1070.1 362.4 1071.8 362.7 1073.4 363C1075.1 363.4 1076.8 363.9 1078.4 364.1C1080.1 364.4 1081.8 364.6 1083.4 364.5C1085.1 364.4 1086.8 364.1 1088.4 363.5C1090.1 362.9 1091.8 361.9 1093.4 361C1095.1 360 1096.8 358.8 1098.4 357.8C1100.1 356.7 1101.8 355.6 1103.4 354.4C1105.1 353.3 1106.8 352.1 1108.4 350.9C1110.1 349.7 1111.8 348.7 1113.4 347.2C1115.1 345.7 1116.8 344 1118.4 342C1120.1 340 1121.8 337.8 1123.4 335.3C1125.1 332.8 1126.8 329.8 1128.4 327.1C1130.1 324.4 1131.8 321.6 1133.4 318.9C1135.1 316.2 1136.8 313.5 1138.4 310.9C1140.1 308.3 1141.8 305.8 1143.4 303.1C1145.1 300.5 1146.8 297.8 1148.4 295C1150.1 292.2 1151.8 289.3 1153.4 286.4C1155.1 283.4 1156.8 280.4 1158.4 277.4C1160.1 274.5 1161.8 271.6 1163.4 268.9C1165.1 266.1 1166.8 263.5 1168.4 260.9C1170.1 258.3 1171.8 255.7 1173.4 253.2C1175.1 250.7 1176.8 248.3 1178.4 245.9C1180.1 243.6 1181.8 241.4 1183.4 239.3C1185.1 237.3 1186.8 235.4 1188.4 233.6C1190.1 231.8 1191.8 230.2 1193.4 228.7C1195.1 227.1 1196.8 225.7 1198.4 224.4C1200.1 223 1201.8 221.6 1203.4 220.5C1205.1 219.3 1206.8 218.2 1208.4 217.4C1210.1 216.5 1211.8 215.8 1213.4 215.4C1215.1 214.9 1216.8 215 1218.4 214.8C1220.1 214.6 1221.8 214.6 1223.4 214.4C1225.1 214.2 1226.8 214.1 1228.4 213.8C1230.1 213.5 1231.8 213.1 1233.4 212.7C1235.1 212.4 1236.8 212.2 1238.4 211.9C1240.1 211.7 1241.8 211.5 1243.4 211.3C1245.1 211.1 1246.8 210.9 1248.4 210.7C1250.1 210.5 1251.8 210.2 1253.4 210.1C1255.1 209.9 1256.8 209.8 1258.4 209.8C1260.1 209.9 1261.8 210 1263.4 210.3C1265.1 210.7 1266.8 211.2 1268.4 211.8C1270.1 212.5 1271.8 213.3 1273.4 214.2C1275.1 215.1 1276.8 216.3 1278.4 217.3C1280.1 218.4 1281.8 219.5 1283.4 220.6C1285.1 221.7 1286.8 222.6 1288.4 223.9C1290.1 225.1 1291.8 226.5 1293.4 228C1295.1 229.6 1296.8 231.3 1298.4 233.3C1300.1 235.2 1301.8 237.7 1303.4 239.6C1305.1 241.5 1306.8 243.2 1308.4 244.6C1310.1 246.1 1311.8 247.3 1313.4 248.3C1315.1 249.2 1316.8 249.6 1318.4 250.4C1320.1 251.2 1321.8 252 1323.4 252.9C1325.1 253.9 1326.8 254.9 1328.4 256C1330.1 257 1331.8 258.3 1333.4 259.4C1335.1 260.6 1336.8 261.8 1338.4 262.9C1340.1 264.1 1341.8 265.2 1343.4 266.3C1345.1 267.4 1346.8 268.5 1348.4 269.6C1350.1 270.8 1351.8 271.9 1353.4 273.2C1355.1 274.5 1356.8 275.9 1358.4 277.4C1360.1 278.9 1361.8 280.5 1363.4 282.3C1365.1 284 1366.8 285.8 1368.4 287.7C1370.1 289.5 1371.8 291.5 1373.4 293.5C1375.1 295.5 1376.8 297.6 1378.4 299.7C1380.1 301.8 1381.8 304 1383.4 306C1385.1 308.1 1386.8 310 1388.4 311.9C1390.1 313.8 1391.8 315.6 1393.4 317.4C1395.1 319.2 1396.8 320.9 1398.4 322.7C1400.1 324.5 1401.8 326.4 1403.4 328.3C1405.1 330.1 1406.8 332 1408.4 333.8C1410.1 335.5 1411.8 337.2 1413.4 338.8C1415.1 340.4 1416.8 341.9 1418.4 343.3C1420.1 344.7 1421.8 345.9 1423.4 347.2C1425.1 348.4 1426.8 349.4 1428.4 350.6C1430.1 351.7 1431.8 352.9 1433.4 354C1435.1 355 1437.2 356 1438.4 356.9C1439.6 357.7 1440.2 358.9 1440.6 359.3" stroke="#c9b98f" stroke-width="1" fill="none"/>
<path d="M3.4 606.7C4.4 606.6 7.4 606.3 9.4 606.1C11.4 605.8 13.4 605.6 15.4 605.4C17.4 605.1 19.4 604.9 21.4 604.7C23.4 604.5 25.4 604.2 27.4 604C29.4 603.8 31.4 603.5 33.4 603.3C35.4 603.1 37.4 602.9 39.4 602.7C41.4 602.4 43.4 602.2 45.4 602C47.4 601.8 49.4 601.6 51.4 601.4C53.4 601.2 55.4 601 57.4 600.8C59.4 600.6 61.4 600.4 63.4 600.2C65.4 600 67.4 599.8 69.4 599.6C71.4 599.4 73.4 599.2 75.4 599.1C77.4 598.9 79.4 598.7 81.4 598.5C83.4 598.3 85.4 598.1 87.4 598C89.4 597.8 91.4 597.6 93.4 597.4C95.4 597.2 97.4 597.1 99.4 596.9C101.4 596.7 103.4 596.5 105.4 596.3C107.4 596.1 109.4 595.9 111.4 595.8C113.4 595.6 115.4 595.4 117.4 595.2C119.4 595 121.4 594.8 123.4 594.6C125.4 594.5 127.4 594.3 129.4 594.1C131.4 593.9 133.4 593.7 135.4 593.5C137.4 593.3 139.4 593.1 141.4 592.9C143.4 592.8 145.4 592.6 147.4 592.4C149.4 592.2 151.4 592 153.4 591.8C155.4 591.6 157.4 591.4 159.4 591.2C161.4 591.1 163.4 590.9 165.4 590.7C167.4 590.5 169.4 590.3 171.4 590.1C173.4 589.9 175.4 589.7 177.4 589.5C179.4 589.3 181.4 589.1 183.4 588.9C185.4 588.7 187.4 588.5 189.4 588.3C191.4 588.1 193.4 587.9 195.4 587.7C197.4 587.5 199.4 587.3 201.4 587.1C203.4 586.9 205.4 586.7 207.4 586.5C209.4 586.3 211.4 586.1 213.4 585.9C215.4 585.7 217.4 585.5 219.4 585.2C221.4 585 223.4 584.8 225.4 584.6C227.4 584.3 229.4 584.1 231.4 583.9C233.4 583.6 235.4 583.4 237.4 583.1C239.4 582.9 241.4 582.6 243.4 582.4C245.4 582.1 247.4 581.8 249.4 581.6C251.4 581.3 253.4 581 255.4 580.7C257.4 580.4 259.4 580.1 261.4 579.8C263.4 579.5 265.4 579.2 267.4 578.9C269.4 578.6 271.4 578.2 273.4 577.9C275.4 577.6 277.4 577.2 279.4 576.9C281.4 576.5 283.4 576.2 285.4 575.8C287.4 575.4 289.4 575 291.4 574.6C293.4 574.2 295.4 573.8 297.4 573.4C299.4 573 301.4 572.5 303.4 572.1C305.4 571.6 307.4 571.1 309.4 570.6C311.4 570.1 313.4 569.6 315.4 569.1C317.4 568.6 319.4 568.1 321.4 567.5C323.4 567 325.4 566.5 327.4 565.9C329.4 565.4 331.4 564.8 333.4 564.3C335.4 563.8 337.4 563.2 339.4 562.7C341.4 562.1 343.4 561.6 345.4 561.1C347.4 560.5 349.4 560 351.4 559.5C353.4 558.9 355.4 558.4 357.4 557.8C359.4 557.3 361.4 556.7 363.4 556.1C365.4 555.6 367.4 555 369.4 554.4C371.4 553.8 373.4 553.2 375.4 552.5C377.4 551.9 379.4 551.2 381.4 550.5C383.4 549.8 385.4 549 387.4 548.2C389.4 547.4 391.4 546.6 393.4 545.8C395.4 545 397.4 544.1 399.4 543.2C401.4 542.3 403.4 541.4 405.4 540.4C407.4 539.5 409.4 538.5 411.4 537.6C413.4 536.6 415.4 535.6 417.4 534.7C419.4 533.7 421.4 532.7 423.4 531.8C425.4 530.8 427.4 529.8 429.4 528.9C431.4 527.9 433.4 527 435.4 526C437.4 525.1 439.4 524.2 441.4 523.2C443.4 522.3 445.4 521.4 447.4 520.5C449.4 519.6 451.4 518.7 453.4 517.8C455.4 516.9 457.4 516 459.4 515.1C461.4 514.2 463.4 513.4 465.4 512.5C467.4 511.6 469.4 510.8 471.4 510C473.4 509.1 475.4 508.3 477.4 507.5C479.4 506.6 481.4 505.8 483.4 505C485.4 504.2 487.4 503.4 489.4 502.6C491.4 501.7 493.4 500.9 495.4 500.1C497.4 499.3 499.4 498.4 501.4 497.6C503.4 496.7 505.4 495.9 507.4 495C509.4 494.1 511.4 493.2 513.4 492.3C515.4 491.4 517.4 490.5 519.4 489.6C521.4 488.7 523.4 487.8 525.4 486.9C527.4 486 529.4 485.1 531.4 484.2C533.4 483.3 535.4 482.4 537.4 481.5C539.4 480.6 541.4 479.7 543.4 478.8C545.4 478 547.4 477.1 549.4 476.2C551.4 475.3 553.4 474.4 555.4 473.6C557.4 472.7 559.4 471.8 561.4 471C563.4 470.1 565.4 469.3 567.4 468.4C569.4 467.6 571.4 466.8 573.4 465.9C575.4 465.1 577.4 464.3 579.4 463.5C581.4 462.7 583.4 462 585.4 461.2C587.4 460.4 589.4 459.7 591.4 458.9C593.4 458.2 595.4 457.5 597.4 456.7C599.4 456 601.4 455.3 603.4 454.5C605.4 453.8 607.4 453.1 609.4 452.3C611.4 451.5 613.4 450.8 615.4 449.9C617.4 449.1 619.4 448.3 621.4 447.5C623.4 446.7 625.4 445.8 627.4 444.9C629.4 444.1 631.4 443.2 633.4 442.3C635.4 441.5 637.4 440.6 639.4 439.7C641.4 438.9 643.4 438.1 645.4 437.3C647.4 436.5 649.4 435.7 651.4 434.9C653.4 434.2 655.4 433.5 657.4 432.8C659.4 432.1 661.4 431.5 663.4 430.8C665.4 430.2 667.4 429.5 669.4 428.9C671.4 428.2 673.4 427.5 675.4 426.8C677.4 426.1 679.4 425.4 681.4 424.6C683.4 423.8 685.4 423 687.4 422C689.4 421.1 691.4 420.2 693.4 419.1C695.4 418.1 697.4 417 699.4 415.9C701.4 414.7 703.4 413.5 705.4 412.3C707.4 411.1 709.4 409.8 711.4 408.4C713.4 407.1 715.4 405.7 717.4 404.3C719.4 402.9 721.4 401.4 723.4 399.9C725.4 398.4 727.4 396.9 729.4 395.4C731.4 393.8 733.4 392.2 735.4 390.6C737.4 389 739.4 387.4 741.4 385.8C743.4 384.2 745.4 382.5 747.4 380.9C749.4 379.3 751.4 377.7 753.4 376.1C755.4 374.4 757.4 372.8 759.4 371.3C761.4 369.7 763.4 368.2 765.4 366.7C767.4 365.2 769.4 363.7 771.4 362.3C773.4 360.9 775.4 359.5 777.4 358.1C779.4 356.8 781.4 355.5 783.4 354.1C785.4 352.8 787.4 351.5 789.4 350.3C791.4 349 793.4 347.7 795.4 346.4C797.4 345.1 799.4 343.8 801.4 342.4C803.4 341.1 805.4 339.8 807.4 338.5C809.4 337.1 811.4 335.8 813.4 334.4C815.4 333 817.4 331.5 819.4 330.1C821.4 328.6 823.4 327.1 825.4 325.4C827.4 323.8 829.4 322.1 831.4 320.3C833.4 318.5 835.4 316.6 837.4 314.6C839.4 312.5 841.4 310.4 843.4 308.2C845.4 306 847.4 303.7 849.4 301.4C851.4 299.1 853.4 296.7 855.4 294.3C857.4 291.9 859.4 289.5 861.4 287.2C863.4 284.8 865.4 282.5 867.4 280.2C869.4 278 871.4 275.7 873.4 273.6C875.4 271.5 877.4 269.4 879.4 267.4C881.4 265.5 883.4 263.6 885.4 261.8C887.4 260 889.4 258.3 891.4 256.7C893.4 255.2 895.4 253.7 897.4 252.3C899.4 250.9 901.4 249.6 903.4 248.3C905.4 247.1 907.4 246 909.4 244.9C911.4 243.9 913.4 242.9 915.4 242C917.4 241.2 919.4 240.4 921.4 239.6C923.4 238.9 925.4 238.3 927.4 237.8C929.4 237.2 931.4 236.8 933.4 236.4C935.4 236.1 937.4 235.9 939.4 235.7C941.4 235.6 943.4 235.5 945.4 235.5C947.4 235.6 949.4 235.7 951.4 235.9C953.4 236 955.4 236.3 957.4 236.6C959.4 236.8 961.4 237.2 963.4 237.5C965.4 237.9 967.4 238.3 969.4 238.8C971.4 239.2 973.4 239.7 975.4 240.3C977.4 240.9 979.4 241.5 981.4 242.1C983.4 242.8 985.4 243.5 987.4 244.3C989.4 245.1 991.4 245.9 993.4 246.8C995.4 247.7 997.4 248.7 999.4 249.7C1001.4 250.7 1003.4 251.7 1005.4 252.7C1007.4 253.7 1009.4 254.8 1011.4 255.8C1013.4 256.8 1015.4 257.8 1017.4 258.8C1019.4 259.8 1021.4 260.7 1023.4 261.6C1025.4 262.5 1027.4 263.4 1029.4 264.2C1031.4 265.1 1033.4 265.9 1035.4 266.6C1037.4 267.4 1039.4 268.2 1041.4 268.9C1043.4 269.7 1045.4 270.4 1047.4 271.2C1049.4 271.9 1051.4 272.7 1053.4 273.4C1055.4 274.2 1057.4 275 1059.4 275.9C1061.4 276.7 1063.4 277.6 1065.4 278.5C1067.4 279.4 1069.4 280.3 1071.4 281.3C1073.4 282.2 1075.4 283.2 1077.4 284.2C1079.4 285.2 1081.4 286.2 1083.4 287.2C1085.4 288.2 1087.4 289.2 1089.4 290.2C1091.4 291.1 1093.4 292.1 1095.4 293C1097.4 293.9 1099.4 294.8 1101.4 295.6C1103.4 296.5 1105.4 297.3 1107.4 298.1C1109.4 298.8 1111.4 299.6 1113.4 300.4C1115.4 301.1 1117.4 301.8 1119.4 302.5C1121.4 303.2 1123.4 303.9 1125.4 304.5C1127.4 305.2 1129.4 305.8 1131.4 306.4C1133.4 307 1135.4 307.5 1137.4 307.9C1139.4 308.3 1141.4 308.6 1143.4 308.7C1145.4 308.9 1147.4 309 1149.4 308.9C1151.4 308.8 1153.4 308.6 1155.4 308.2C1157.4 307.9 1159.4 307.4 1161.4 306.8C1163.4 306.2 1165.4 305.5 1167.4 304.8C1169.4 304.1 1171.4 303.3 1173.4 302.5C1175.4 301.8 1177.4 300.9 1179.4 300.2C1181.4 299.4 1183.4 298.7 1185.4 298C1187.4 297.3 1189.4 296.7 1191.4 296C1193.4 295.4 1195.4 294.8 1197.4 294.3C1199.4 293.7 1201.4 293.1 1203.4 292.6C1205.4 292 1207.4 291.5 1209.4 290.9C1211.4 290.3 1213.4 289.7 1215.4 289.1C1217.4 288.5 1219.4 287.8 1221.4 287.1C1223.4 286.3 1225.4 285.6 1227.4 284.8C1229.4 283.9 1231.4 283 1233.4 282.1C1235.4 281.1 1237.4 280.1 1239.4 279C1241.4 277.9 1243.4 276.7 1245.4 275.5C1247.4 274.3 1249.4 273 1251.4 271.7C1253.4 270.4 1255.4 269.1 1257.4 267.7C1259.4 266.4 1261.4 265 1263.4 263.7C1265.4 262.4 1267.4 261.1 1269.4 259.9C1271.4 258.6 1273.4 257.4 1275.4 256.3C1277.4 255.2 1279.4 254.1 1281.4 253.1C1283.4 252.1 1285.4 251.1 1287.4 250.3C1289.4 249.4 1291.4 248.6 1293.4 247.8C1295.4 247.1 1297.4 246.4 1299.4 245.7C1301.4 245.1 1303.4 244.5 1305.4 243.9C1307.4 243.4 1309.4 242.9 1311.4 242.5C1313.4 242 1315.4 241.7 1317.4 241.4C1319.4 241.1 1321.4 240.8 1323.4 240.6C1325.4 240.5 1327.4 240.4 1329.4 240.4C1331.4 240.4 1333.4 240.5 1335.4 240.7C1337.4 240.8 1339.4 241.1 1341.4 241.5C1343.4 241.8 1345.4 242.3 1347.4 242.8C1349.4 243.4 1351.4 244 1353.4 244.7C1355.4 245.4 1357.4 246.2 1359.4 247C1361.4 247.9 1363.4 248.8 1365.4 249.7C1367.4 250.7 1369.4 251.7 1371.4 252.7C1373.4 253.7 1375.4 254.8 1377.4 255.9C1379.4 257.1 1381.4 258.2 1383.4 259.4C1385.4 260.6 1387.4 261.9 1389.4 263.2C1391.4 264.5 1393.4 265.8 1395.4 267.3C1397.4 268.7 1399.4 270.1 1401.4 271.6C1403.4 273.2 1405.4 274.7 1407.4 276.3C1409.4 277.9 1411.4 279.6 1413.4 281.2C1415.4 282.8 1417.4 284.5 1419.4 286.1C1421.4 287.7 1423.4 289.3 1425.4 290.8C1427.4 292.4 1429.4 293.9 1431.4 295.3C1433.4 296.8 1435.9 298.1 1437.4 299.5C1439 300.9 1440.1 302.8 1440.6 303.5" stroke="#e66e6e" stroke-width="1" fill="none"/>
<path d="M3.4 618.8C4.4 618.7 7.4 618.4 9.4 618.2C11.4 618 13.4 617.8 15.4 617.6C17.4 617.4 19.4 617.2 21.4 617C23.4 616.8 25.4 616.6 27.4 616.5C29.4 616.3 31.4 616.1 33.4 615.9C35.4 615.7 37.4 615.5 39.4 615.3C41.4 615.2 43.4 615 45.4 614.8C47.4 614.6 49.4 614.4 51.4 614.3C53.4 614.1 55.4 613.9 57.4 613.7C59.4 613.6 61.4 613.4 63.4 613.2C65.4 613.1 67.4 612.9 69.4 612.8C71.4 612.6 73.4 612.4 75.4 612.3C77.4 612.1 79.4 612 81.4 611.8C83.4 611.7 85.4 611.5 87.4 611.3C89.4 611.2 91.4 611 93.4 610.8C95.4 610.7 97.4 610.5 99.4 610.3C101.4 610.2 103.4 610 105.4 609.8C107.4 609.7 109.4 609.5 111.4 609.3C113.4 609.1 115.4 608.9 117.4 608.7C119.4 608.5 121.4 608.3 123.4 608.1C125.4 607.9 127.4 607.7 129.4 607.5C131.4 607.3 133.4 607.1 135.4 606.9C137.4 606.7 139.4 606.5 141.4 606.2C143.4 606 145.4 605.8 147.4 605.6C149.4 605.4 151.4 605.2 153.4 604.9C155.4 604.7 157.4 604.5 159.4 604.3C161.4 604.1 163.4 603.8 165.4 603.6C167.4 603.4 169.4 603.2 171.4 602.9C173.4 602.7 175.4 602.5 177.4 602.3C179.4 602 181.4 601.8 183.4 601.6C185.4 601.3 187.4 601.1 189.4 600.9C191.4 600.7 193.4 600.4 195.4 600.2C197.4 600 199.4 599.7 201.4 599.5C203.4 599.3 205.4 599 207.4 598.8C209.4 598.6 211.4 598.4 213.4 598.1C215.4 597.9 217.4 597.7 219.4 597.5C221.4 597.3 223.4 597 225.4 596.8C227.4 596.6 229.4 596.4 231.4 596.2C233.4 596 235.4 595.7 237.4 595.5C239.4 595.3 241.4 595.1 243.4 594.9C245.4 594.6 247.4 594.4 249.4 594.2C251.4 594 253.4 593.7 255.4 593.5C257.4 593.3 259.4 593 261.4 592.8C263.4 592.5 265.4 592.3 267.4 592C269.4 591.7 271.4 591.5 273.4 591.2C275.4 590.9 277.4 590.6 279.4 590.4C281.4 590.1 283.4 589.8 285.4 589.5C287.4 589.2 289.4 588.9 291.4 588.6C293.4 588.3 295.4 587.9 297.4 587.6C299.4 587.3 301.4 587 303.4 586.6C305.4 586.3 307.4 586 309.4 585.6C311.4 585.3 313.4 585 315.4 584.6C317.4 584.3 319.4 583.9 321.4 583.6C323.4 583.2 325.4 582.9 327.4 582.5C329.4 582.1 331.4 581.8 333.4 581.4C335.4 581 337.4 580.7 339.4 580.3C341.4 579.9 343.4 579.5 345.4 579.2C347.4 578.8 349.4 578.4 351.4 578C353.4 577.6 355.4 577.2 357.4 576.8C359.4 576.4 361.4 576 363.4 575.6C365.4 575.2 367.4 574.8 369.4 574.3C371.4 573.9 373.4 573.5 375.4 573C377.4 572.6 379.4 572.1 381.4 571.7C383.4 571.2 385.4 570.8 387.4 570.3C389.4 569.9 391.4 569.4 393.4 568.9C395.4 568.4 397.4 567.9 399.4 567.5C401.4 567 403.4 566.5 405.4 566C407.4 565.5 409.4 565 411.4 564.5C413.4 564 415.4 563.4 417.4 562.9C419.4 562.4 421.4 561.9 423.4 561.3C425.4 560.8 427.4 560.3 429.4 559.7C431.4 559.2 433.4 558.6 435.4 558.1C437.4 557.6 439.4 557 441.4 556.4C443.4 555.9 445.4 555.3 447.4 554.8C449.4 554.2 451.4 553.7 453.4 553.1C455.4 552.5 457.4 552 459.4 551.4C461.4 550.9 463.4 550.3 465.4 549.8C467.4 549.2 469.4 548.7 471.4 548.1C473.4 547.6 475.4 547.1 477.4 546.5C479.4 546 481.4 545.4 483.4 544.9C485.4 544.3 487.4 543.8 489.4 543.3C491.4 542.7 493.4 542.2 495.4 541.7C497.4 541.2 499.4 540.7 501.4 540.1C503.4 539.6 505.4 539.1 507.4 538.5C509.4 538 511.4 537.4 513.4 536.9C515.4 536.3 517.4 535.7 519.4 535.2C521.4 534.6 523.4 534 525.4 533.5C527.4 532.9 529.4 532.3 531.4 531.7C533.4 531.1 535.4 530.5 537.4 529.8C539.4 529.2 541.4 528.6 543.4 527.9C545.4 527.3 547.4 526.7 549.4 526C551.4 525.4 553.4 524.7 555.4 524.1C557.4 523.4 559.4 522.8 561.4 522.1C563.4 521.5 565.4 520.8 567.4 520.2C569.4 519.6 571.4 518.9 573.4 518.3C575.4 517.6 577.4 517 579.4 516.4C581.4 515.8 583.4 515.1 585.4 514.5C587.4 513.9 589.4 513.2 591.4 512.6C593.4 512 595.4 511.4 597.4 510.7C599.4 510.1 601.4 509.5 603.4 508.8C605.4 508.2 607.4 507.5 609.4 506.8C611.4 506.2 613.4 505.5 615.4 504.8C617.4 504.1 619.4 503.4 621.4 502.7C623.4 501.9 625.4 501.2 627.4 500.4C629.4 499.7 631.4 498.9 633.4 498.1C635.4 497.3 637.4 496.5 639.4 495.7C641.4 494.9 643.4 494.1 645.4 493.2C647.4 492.4 649.4 491.6 651.4 490.7C653.4 489.9 655.4 489 657.4 488.2C659.4 487.3 661.4 486.5 663.4 485.6C665.4 484.7 667.4 483.8 669.4 482.9C671.4 482 673.4 481.1 675.4 480.2C677.4 479.3 679.4 478.4 681.4 477.4C683.4 476.5 685.4 475.5 687.4 474.5C689.4 473.5 691.4 472.5 693.4 471.5C695.4 470.4 697.4 469.4 699.4 468.3C701.4 467.2 703.4 466.1 705.4 465C707.4 463.9 709.4 462.8 711.4 461.7C713.4 460.5 715.4 459.3 717.4 458.2C719.4 457 721.4 455.8 723.4 454.6C725.4 453.4 727.4 452.1 729.4 450.9C731.4 449.7 733.4 448.5 735.4 447.2C737.4 446 739.4 444.8 741.4 443.5C743.4 442.3 745.4 441.1 747.4 439.9C749.4 438.7 751.4 437.5 753.4 436.3C755.4 435.1 757.4 434 759.4 432.9C761.4 431.7 763.4 430.6 765.4 429.6C767.4 428.5 769.4 427.4 771.4 426.3C773.4 425.3 775.4 424.2 777.4 423.2C779.4 422.2 781.4 421.2 783.4 420.1C785.4 419.1 787.4 418.1 789.4 417C791.4 416 793.4 414.9 795.4 413.8C797.4 412.7 799.4 411.6 801.4 410.5C803.4 409.3 805.4 408.2 807.4 407C809.4 405.8 811.4 404.6 813.4 403.3C815.4 402 817.4 400.8 819.4 399.4C821.4 398.1 823.4 396.8 825.4 395.4C827.4 394.1 829.4 392.7 831.4 391.3C833.4 389.9 835.4 388.5 837.4 387C839.4 385.6 841.4 384.2 843.4 382.7C845.4 381.3 847.4 379.9 849.4 378.4C851.4 377 853.4 375.5 855.4 374.1C857.4 372.6 859.4 371.2 861.4 369.7C863.4 368.3 865.4 366.9 867.4 365.4C869.4 364 871.4 362.6 873.4 361.2C875.4 359.8 877.4 358.4 879.4 357C881.4 355.6 883.4 354.3 885.4 353C887.4 351.7 889.4 350.4 891.4 349.1C893.4 347.9 895.4 346.7 897.4 345.6C899.4 344.5 901.4 343.4 903.4 342.3C905.4 341.3 907.4 340.4 909.4 339.5C911.4 338.5 913.4 337.7 915.4 336.9C917.4 336.1 919.4 335.4 921.4 334.7C923.4 334 925.4 333.3 927.4 332.7C929.4 332.1 931.4 331.5 933.4 330.9C935.4 330.3 937.4 329.8 939.4 329.3C941.4 328.7 943.4 328.2 945.4 327.7C947.4 327.2 949.4 326.7 951.4 326.2C953.4 325.7 955.4 325.2 957.4 324.7C959.4 324.3 961.4 323.8 963.4 323.3C965.4 322.8 967.4 322.4 969.4 321.9C971.4 321.5 973.4 321 975.4 320.6C977.4 320.2 979.4 319.8 981.4 319.4C983.4 319 985.4 318.6 987.4 318.2C989.4 317.8 991.4 317.5 993.4 317.2C995.4 316.8 997.4 316.5 999.4 316.2C1001.4 315.9 1003.4 315.6 1005.4 315.3C1007.4 315 1009.4 314.7 1011.4 314.4C1013.4 314.2 1015.4 313.9 1017.4 313.6C1019.4 313.4 1021.4 313.1 1023.4 312.9C1025.4 312.6 1027.4 312.3 1029.4 312.1C1031.4 311.8 1033.4 311.6 1035.4 311.3C1037.4 311.1 1039.4 310.8 1041.4 310.6C1043.4 310.3 1045.4 310.1 1047.4 309.8C1049.4 309.6 1051.4 309.3 1053.4 309.1C1055.4 308.8 1057.4 308.5 1059.4 308.3C1061.4 308 1063.4 307.7 1065.4 307.4C1067.4 307.1 1069.4 306.8 1071.4 306.5C1073.4 306.1 1075.4 305.8 1077.4 305.4C1079.4 305 1081.4 304.6 1083.4 304.1C1085.4 303.7 1087.4 303.2 1089.4 302.7C1091.4 302.2 1093.4 301.6 1095.4 301C1097.4 300.4 1099.4 299.8 1101.4 299.2C1103.4 298.5 1105.4 297.8 1107.4 297.1C1109.4 296.4 1111.4 295.7 1113.4 295C1115.4 294.2 1117.4 293.5 1119.4 292.7C1121.4 291.9 1123.4 291.2 1125.4 290.4C1127.4 289.6 1129.4 288.8 1131.4 288C1133.4 287.3 1135.4 286.5 1137.4 285.7C1139.4 284.9 1141.4 284.1 1143.4 283.3C1145.4 282.5 1147.4 281.7 1149.4 280.9C1151.4 280.1 1153.4 279.3 1155.4 278.5C1157.4 277.7 1159.4 276.9 1161.4 276.2C1163.4 275.4 1165.4 274.6 1167.4 273.9C1169.4 273.1 1171.4 272.4 1173.4 271.7C1175.4 271 1177.4 270.3 1179.4 269.6C1181.4 269 1183.4 268.4 1185.4 267.8C1187.4 267.3 1189.4 266.8 1191.4 266.3C1193.4 265.8 1195.4 265.4 1197.4 265C1199.4 264.6 1201.4 264.3 1203.4 263.9C1205.4 263.6 1207.4 263.3 1209.4 263.1C1211.4 262.8 1213.4 262.6 1215.4 262.4C1217.4 262.2 1219.4 262 1221.4 261.8C1223.4 261.6 1225.4 261.4 1227.4 261.2C1229.4 261 1231.4 260.9 1233.4 260.7C1235.4 260.5 1237.4 260.4 1239.4 260.2C1241.4 260 1243.4 259.9 1245.4 259.7C1247.4 259.6 1249.4 259.4 1251.4 259.3C1253.4 259.1 1255.4 259 1257.4 258.8C1259.4 258.7 1261.4 258.6 1263.4 258.4C1265.4 258.3 1267.4 258.2 1269.4 258.1C1271.4 258.1 1273.4 258 1275.4 257.9C1277.4 257.9 1279.4 257.8 1281.4 257.8C1283.4 257.8 1285.4 257.8 1287.4 257.8C1289.4 257.9 1291.4 257.9 1293.4 258C1295.4 258.1 1297.4 258.2 1299.4 258.3C1301.4 258.4 1303.4 258.6 1305.4 258.8C1307.4 259 1309.4 259.3 1311.4 259.6C1313.4 259.8 1315.4 260.2 1317.4 260.5C1319.4 260.9 1321.4 261.3 1323.4 261.7C1325.4 262.1 1327.4 262.6 1329.4 263.1C1331.4 263.6 1333.4 264.2 1335.4 264.8C1337.4 265.3 1339.4 265.9 1341.4 266.6C1343.4 267.2 1345.4 267.9 1347.4 268.5C1349.4 269.2 1351.4 269.9 1353.4 270.6C1355.4 271.4 1357.4 272.1 1359.4 272.9C1361.4 273.6 1363.4 274.4 1365.4 275.2C1367.4 276 1369.4 276.8 1371.4 277.6C1373.4 278.4 1375.4 279.2 1377.4 280.1C1379.4 280.9 1381.4 281.7 1383.4 282.5C1385.4 283.3 1387.4 284.1 1389.4 284.9C1391.4 285.7 1393.4 286.5 1395.4 287.3C1397.4 288 1399.4 288.7 1401.4 289.5C1403.4 290.2 1405.4 290.8 1407.4 291.5C1409.4 292.1 1411.4 292.7 1413.4 293.3C1415.4 293.9 1417.4 294.5 1419.4 295C1421.4 295.5 1423.4 296 1425.4 296.4C1427.4 296.9 1429.4 297.3 1431.4 297.8C1433.4 298.2 1435.8 298.6 1437.4 298.9C1439.1 299.3 1440.8 299.9 1441.4 300.1" stroke="#5050d4" stroke-width="1.2" fill="none"/>
<g stroke="#31958a" stroke-width="1.25" fill="none">
<path d="M656 447.2L1711 400.2"/>
<path d="M1313.5 275.6L1472 397"/>
<path d="M1312 277.8L1469.3 399.6"/>
<path d="M1311 376.2L1466.8 431.4"/>
</g>
<g stroke="#937521" stroke-width="1.2" fill="none" stroke-linejoin="round" stroke-linecap="round">
<path d="M1711.5 285.4H1451.5L1456 386.2"/>
<path d="M1443.9 422L1456 386.2M1447.5 392.3L1456 386.2L1458.9 395.7"/>
</g>
<g stroke="#111" stroke-width="1.8" fill="none" stroke-linejoin="miter" stroke-linecap="round">
<path d="M1443.9 422L1458.7 445.2M1445.4 438.6L1458.7 445.2L1458.9 430.1"/>
</g>
<text transform="translate(1385.5 258.3) rotate(0.03) scale(1.0)" font-size="9.3" fill="#e01010" textLength="39" lengthAdjust="spacingAndGlyphs" class="an" stroke="#e01010" stroke-width="0.2">MA 100</text>
<text transform="translate(1398.3 306.2) rotate(0.03) scale(1.0)" font-size="9.3" fill="#1c4fa0" textLength="38.3" lengthAdjust="spacingAndGlyphs" class="an" stroke="#1c4fa0" stroke-width="0.2">MA 200</text>
<text transform="translate(1416.3 349.2) rotate(0.03) scale(1.0)" font-size="9.3" fill="#8a6a12" textLength="32" lengthAdjust="spacingAndGlyphs" class="an" stroke="#8a6a12" stroke-width="0.2">MA 50</text>
<text transform="translate(1454.3 297.3) rotate(0.03) scale(1.0)" font-size="9.3" fill="#8a6a12" textLength="140.2" lengthAdjust="spacingAndGlyphs" class="an" stroke="#8a6a12" stroke-width="0.2">Puede hacer un rebote a la</text>
<text transform="translate(1454.3 306.6) rotate(0.03) scale(1.0)" font-size="9.3" fill="#8a6a12" textLength="162.8" lengthAdjust="spacingAndGlyphs" class="an" stroke="#8a6a12" stroke-width="0.2">directriz y si supera la directriz</text>
<text transform="translate(1454.3 315.8) rotate(0.03) scale(1.0)" font-size="9.3" fill="#8a6a12" textLength="127.9" lengthAdjust="spacingAndGlyphs" class="an" stroke="#8a6a12" stroke-width="0.2">podría llegar hasta 453$</text>
<text transform="translate(1391 461.2) rotate(0.03) scale(1.0)" font-size="9.3" fill="#0a0a0a" textLength="104.7" lengthAdjust="spacingAndGlyphs" class="an" stroke="#0a0a0a" stroke-width="0.2">También podría ir al</text>
<text transform="translate(1391 470.4) rotate(0.03) scale(1.0)" font-size="9.3" fill="#0a0a0a" textLength="124" lengthAdjust="spacingAndGlyphs" class="an" stroke="#0a0a0a" stroke-width="0.2">soporte entre 299-256$</text>
<path d="M3.3 776.1L5.4 795.7L7.6 776.1L13 777.6L15.2 762L17.8 756.5L20.7 763L23.5 765.7L26.1 759.8L28.3 761.3L30.4 743L33 762L35.9 763.5L38.7 753.9L41.3 764.1L45.7 753.9L48.5 734.1L51.1 793L53.3 789.6L56.5 805L59.8 787L63.7 768.5L66.3 763L68.9 763.5L71.7 740.2L73.9 746.1L76.5 743.5L79.1 734.8L81.7 748.3L84.3 736.5L87 734.8L89.6 733L92.4 743.9L94.6 745.2L97.2 730.4L99.6 733.7L102.6 785.9L104.8 777.2L107.2 775L109.3 778.3L112.6 834.8L114.8 842.4L117.4 815.2L120.2 789.1L122.8 790.2L125 791.3L127.6 759.8L130 763.5L133 754.3L135.4 760.4L138.5 756.5L143.5 762.6L146.1 761.3L148.9 753.9L151.5 748.9L153.5 735.4L157 754.3L160.4 769.6L163.5 793.5L166.3 775.7L169.1 767.4L171.7 763L175.7 762.6L178.3 756.5L181.5 746.1L184.3 752.2L188.7 735.9L191.3 772.8L193.9 775L196.7 734.8L198.9 732.2L201.7 731.1L203.9 737.4L206.5 733.7L209.1 744.6L212 757.6L214.8 776.1L217 769.6L219.1 768.5L221.7 804.8L224.3 778.3L227.2 783L229.8 775L232.6 788L234.8 762L237 760.4L239.8 750L242.8 737L245.7 730.9L247.8 725.7L250 717.8L252.6 720.7L255.4 718L258 714.1L260.9 698.3L263 696.1L265.2 691.3L267.8 690.7L270.7 702.2L273.5 695.2L276.1 690.2L278.9 687L281.5 683.3L283 687L285.9 676.1L288.5 674.6L290.9 721.7L293.5 723.9L296.3 703.3L298.9 730.4L301.5 728.9L304.3 717.4L306.5 710.4L308.7 727.2L311.3 726.1L313.7 733.7L316.3 729.3L319.1 719.6L321.7 710.4L323.9 709.3L326.5 715.2L328.9 756.5L331.5 754.3L334.1 747.8L337 737L339.6 693.5L342 691.3L344.6 685.2L347.4 688.5L350 687.4L352.2 684.3L354.8 713L357.6 742.4L359.8 733.7L362.4 744.6L365.2 744.6L367.8 719.6L370.2 707.6L372.8 705.4L374.6 698.3L377.2 715.2L380.2 751.7L382.8 727.4L385.4 717.6L387.8 717.2L390.4 704.6L392.6 700.7L395.4 733.9L398 731.7L400.7 728.5L403.5 720.9L405.7 719.8L408.3 731.3L410.7 718.7L413.3 705.7L415.9 718L418.7 710.4L421.3 703.5L423.7 704.1L426.3 703.9L428.9 732.2L431.3 731.7L433.9 725.2L436.5 711.7L438.9 715.4L441.5 725.2L444.1 730.7L446.5 730.7L449.1 758.9L451.7 735L454.1 727.8L456.7 736.5L459.3 718.3L461.7 756.3L464.3 743.3L467 758.9L469.3 789.3L472 795.2L474.6 794.8L477.4 804.6L479.6 794.8L482.2 803.5L484.6 826.3L487.2 783.3L489.8 801.3L492.2 812.2L495.2 835.4L498 814.3L500.2 809.6L502.8 792.6L505.2 781.7L507.8 784.6L510.4 780.7L512.8 770.4L515.4 766.5L517.6 766.5L520.4 761.1L523 777.8L525.7 774.1L528 769.8L531.1 760.4L533.5 757.8L536.1 752.8L538.3 755L541.1 739.3L543.7 735.4L546.3 752.4L548.5 751.3L550.9 762.2L553.5 772.4L556.3 760.4L558.9 770.2L561.5 734.3L563.7 744.1L566.1 735L568.7 728.5L571.3 733.5L574.1 729.6L576.7 767.6L578.9 767L581.7 780.7L584.3 790.4L586.7 786.7L589.3 786.1L592 798L594.3 800.2L597 801.3L599.6 802.4L602 798.5L604.6 826.3L607.4 810.7L610 794.8L612.2 766.5L614.8 757.8L617.2 754.6L620.2 739.8L622.6 748.5L625.2 733.9L627.4 722L630.2 718.3L632.8 716.1L635.4 707.8L637.8 700.2L640.4 698.5L642.6 698.5L645.4 687.2L648 679.1L650.7 697L653.5 760L655.7 773L657.8 776.7L660.7 827.4L663.3 813.3L666.1 825.2L668.7 794.8L671.3 770.9L673.7 770.2L675.9 769.8L678.9 749.6L681.1 752.8L683.9 738.3L686.1 736.5L688.9 730.7L691.5 719.8L693.7 710.4L696.3 711.7L699.1 702.4L701.7 693.7L703.9 739.8L706.3 742.6L708.9 733.9L711.5 730.7L714.3 732.8L717 717.6L719.8 699.6L722.4 731.7L724.6 749.1L727 753L729.6 746.5L732.2 746.3L734.6 733.9L737.2 733.9L739.6 748.1L742.4 789.4L745 758.3L747.6 777.9L750.4 782.4L752.6 773.1L755.2 768.1L757.6 776.8L760.2 760.5L762.8 762.2L765.2 762.7L767.8 780.7L770.4 798.7L772.8 787.2L775.4 798.1L778 774.2L780.9 770.3L783 785L785.7 799.8L788 812.7L790.7 810.5L793.3 811.6L796.1 787.2L798.3 773.1L800.9 761.1L803.3 752.4L805.9 759.4L808.7 767L811.3 784.6L813.9 786.8L816.3 785L818.9 772L821.5 772L823.9 747L826.5 732.9L829.1 725.9L831.5 718.7L834.1 714.8L836.7 714L839.1 706.1L842.2 711.8L844.6 707.9L847.2 704.2L849.8 699.2L852.2 694.8L854.8 693.1L857.4 704.6L860.2 712.2L862.8 767.7L864.6 798.1L867.4 798.5L870 772L872.6 752L875 748.5L877.6 742L880.2 746.6L882.6 730.3L885.2 755.7L887.8 790.5L890.4 768.7L892.4 819.8L895 812.9L897.8 814.4L900.4 836.1L903 830L905.9 837.7L908 826.3L910.7 828.1L913.5 841.6L915.7 853.5L918.5 838.3L921.1 843.3L923.3 855.7L925.9 831.3L928.3 839L931.3 823.1L934.1 829.2L936.7 837.9L939.1 842.2L941.7 847L943.9 848.1L946.7 837.7L948.9 840.5L952 818.7L954.3 818.1L957 839L959.1 848.7L962 829.2L964.1 837.2L967.2 822L969.6 827L972.2 811.8L974.3 806.3L977.2 791.6L979.8 784.6L982.4 797L984.8 819.8L987 827.4L989.6 809L992.4 847L995 851.3L997.6 854.6L1000.4 845.9L1002.6 844.4L1005.2 831.8L1007.6 819.2L1010.2 837.2L1012.8 804L1015.2 808.5L1017.8 805.7L1020.4 802.4L1022.8 807.9L1025.4 803.5L1028 803.1L1030.4 804.2L1033 806.8L1035.7 798.1L1038 789.4L1041.1 777.4L1043.5 772L1046.1 779.6L1048.7 792.7L1050.9 818.1L1053.3 799.2L1056.3 809.6L1058.7 787.2L1061.3 776.3L1064.1 769.8L1066.7 774.2L1069.3 775.7L1071.7 776.8L1074.3 777.9L1076.5 802.4L1079.3 813.7L1082 780.7L1084.6 756.3L1087 745.5L1089.6 736.1L1092.2 720.9L1094.3 729.6L1097.2 729.2L1099.1 732L1101.7 720.7L1104.3 717.9L1107.2 714.2L1110 716.8L1112 736.3L1114.3 737.4L1117 729.8L1119.8 712L1122.4 714.6L1125 745L1127.4 762.4L1130 765L1132.6 754.8L1135.4 742.2L1138 752.7L1140.4 778.1L1143 747.2L1145.2 735.3L1147.8 732L1150.2 726.1L1152.8 732L1155.7 735.3L1158.3 757L1160.4 750.5L1163.3 751.6L1165.9 777.7L1168.5 760.3L1170.9 752.7L1173.5 751.1L1175.7 740.7L1178.5 746.8L1181.1 803.3L1183.7 799.4L1186.1 789.2L1188.7 801.1L1190.9 829.2L1193.5 824.4L1196.3 821.1L1198.9 829.8L1201.7 835.3L1204.3 839.6L1206.7 827.7L1209.3 822.2L1212 824L1214.3 824L1217 829.4L1219.6 845.5L1222 815.7L1224.6 783.1L1227.2 777.2L1229.6 765.7L1232.2 754.8L1234.8 769L1237.2 775.5L1239.8 782L1242.4 792.4L1244.8 785.3L1247.4 774.8L1250 771.1L1252.4 761.3L1255 773.3L1257.6 791.8L1260 801.6L1262.6 807L1265.2 813.5L1268 820.7L1270.2 821.8L1273 829.4L1275.7 829.8L1277.8 817.9L1280.4 808.1L1282.8 800L1285.4 794L1288 762L1290.4 825.5L1293 835.3L1295.7 836.3L1298 842.9L1300.7 855.3L1303.3 834.2L1306.1 829.8L1308.7 827.7L1311.1 829.4L1314.1 805.5L1316.5 817.4L1319.1 819.6L1321.3 810.3L1323.9 842.4L1326.7 846.1L1329.3 846.6L1331.5 862.4L1333.9 859.6L1336.5 860.7L1339.1 844L1342 828.7L1344.6 825.5L1346.7 796.6L1349.6 803.1L1351.7 797.2L1354.3 796.1L1356.7 813.5L1359.8 824.8L1362.2 816.8L1364.8 821.1L1367.4 831.6L1369.8 829.2L1372.4 824.4L1375 840L1377.4 844.6L1380 827.7L1382.6 820L1385 823.3L1387.6 830.5L1390.2 829.8L1393 809.2L1395.7 816.8L1398 827.2L1400.7 835.3L1403.3 837.9L1405.7 811.3L1407.8 821.1L1410.4 833.7L1413 828.7L1415.9 834.2L1418.5 837.9L1421.3 803.7L1423.9 792.9L1426.3 792.9L1428.9 795.5L1431.1 816.8L1433.3 816.8L1436.1 847.7L1438.7 841.3L1440.9 842.9" stroke="#c28cc8" stroke-width="0.6" fill="none" stroke-linejoin="round"/>
<g stroke="#9a9a9a" fill="none">
<path d="M1711.5 19.6V874.8" stroke-width="1.2"/>
<path d="M3 651.2H1745" stroke-width="1.3"/>
<path d="M3 874.3H1712.1" stroke-width="1"/>
<path d="M1711.5 637.8h2.6M1711.5 617.3h2.6M1711.5 596.7h2.6M1711.5 576.1h2.6M1711.5 555.6h2.6M1711.5 535h2.6M1711.5 514.4h2.6M1711.5 493.9h2.6M1711.5 473.3h2.6M1711.5 452.7h2.6M1711.5 432.1h2.6M1711.5 411.6h2.6M1711.5 391h2.6M1711.5 370.4h2.6M1711.5 349.9h2.6M1711.5 329.3h2.6M1711.5 308.7h2.6M1711.5 288.2h2.6M1711.5 267.6h2.6M1711.5 247h2.6M1711.5 226.5h2.6M1711.5 205.9h2.6M1711.5 185.3h2.6M1711.5 164.8h2.6M1711.5 144.2h2.6M1711.5 123.6h2.6M1711.5 103.1h2.6M1711.5 82.5h2.6M1711.5 61.9h2.6M1711.5 41.4h2.6M1711.5 20.8h2.6M1711.5 857.4h2.6M1711.5 824.9h2.6M1711.5 792.4h2.6M1711.5 759.9h2.6M1711.5 727.4h2.6M1711.5 694.9h2.6M1711.5 662.4h2.6" stroke-width="0.9" stroke="#777"/>
<path d="M102.7 874.3v2.2M235.1 874.3v2.2M368.1 874.3v2.2M503.1 874.3v2.2M635.9 874.3v2.2M768.1 874.3v2.2M901.3 874.3v2.2M1033 874.3v2.2M1166.2 874.3v2.2M1301 874.3v2.2M1434.1 874.3v2.2M1566.3 874.3v2.2M1699.4 874.3v2.2M23.7 874.3v2.2M158.7 874.3v2.2M291.5 874.3v2.2M423.9 874.3v2.2M556.6 874.3v2.2M689 874.3v2.2M824.4 874.3v2.2M957 874.3v2.2M1090 874.3v2.2M1222.2 874.3v2.2M1355.2 874.3v2.2M1487 874.3v2.2M1622.7 874.3v2.2" stroke-width="0.9" stroke="#777"/>
</g>
<clipPath id="cpa"><rect x="1700" y="19.4" width="48" height="640"/></clipPath><g clip-path="url(#cpa)">
<text transform="translate(1716 641.12) rotate(0.03) scale(1.0)" font-size="7.6" fill="#4a4a4a" textLength="18.2" lengthAdjust="spacingAndGlyphs">25.00</text>
<text transform="translate(1716 620.56) rotate(0.03) scale(1.0)" font-size="7.6" fill="#4a4a4a" textLength="18.2" lengthAdjust="spacingAndGlyphs">50.00</text>
<text transform="translate(1716 599.99) rotate(0.03) scale(1.0)" font-size="7.6" fill="#4a4a4a" textLength="18.2" lengthAdjust="spacingAndGlyphs">75.00</text>
<text transform="translate(1716 579.42) rotate(0.03) scale(1.0)" font-size="7.6" fill="#4a4a4a" textLength="22.2" lengthAdjust="spacingAndGlyphs">100.00</text>
<text transform="translate(1716 558.85) rotate(0.03) scale(1.0)" font-size="7.6" fill="#4a4a4a" textLength="22.2" lengthAdjust="spacingAndGlyphs">125.00</text>
<text transform="translate(1716 538.29) rotate(0.03) scale(1.0)" font-size="7.6" fill="#4a4a4a" textLength="22.2" lengthAdjust="spacingAndGlyphs">150.00</text>
<text transform="translate(1716 517.72) rotate(0.03) scale(1.0)" font-size="7.6" fill="#4a4a4a" textLength="22.2" lengthAdjust="spacingAndGlyphs">175.00</text>
<text transform="translate(1716 497.15) rotate(0.03) scale(1.0)" font-size="7.6" fill="#4a4a4a" textLength="22.2" lengthAdjust="spacingAndGlyphs">200.00</text>
<text transform="translate(1716 476.59) rotate(0.03) scale(1.0)" font-size="7.6" fill="#4a4a4a" textLength="22.2" lengthAdjust="spacingAndGlyphs">225.00</text>
<text transform="translate(1716 456.02) rotate(0.03) scale(1.0)" font-size="7.6" fill="#4a4a4a" textLength="22.2" lengthAdjust="spacingAndGlyphs">250.00</text>
<text transform="translate(1716 435.45) rotate(0.03) scale(1.0)" font-size="7.6" fill="#4a4a4a" textLength="22.2" lengthAdjust="spacingAndGlyphs">275.00</text>
<text transform="translate(1716 394.31) rotate(0.03) scale(1.0)" font-size="7.6" fill="#4a4a4a" textLength="22.2" lengthAdjust="spacingAndGlyphs">325.00</text>
<text transform="translate(1716 373.75) rotate(0.03) scale(1.0)" font-size="7.6" fill="#4a4a4a" textLength="22.2" lengthAdjust="spacingAndGlyphs">350.00</text>
<text transform="translate(1716 353.18) rotate(0.03) scale(1.0)" font-size="7.6" fill="#4a4a4a" textLength="22.2" lengthAdjust="spacingAndGlyphs">375.00</text>
<text transform="translate(1716 332.61) rotate(0.03) scale(1.0)" font-size="7.6" fill="#4a4a4a" textLength="22.2" lengthAdjust="spacingAndGlyphs">400.00</text>
<text transform="translate(1716 270.91) rotate(0.03) scale(1.0)" font-size="7.6" fill="#4a4a4a" textLength="22.2" lengthAdjust="spacingAndGlyphs">475.00</text>
<text transform="translate(1716 250.34) rotate(0.03) scale(1.0)" font-size="7.6" fill="#4a4a4a" textLength="22.2" lengthAdjust="spacingAndGlyphs">500.00</text>
<text transform="translate(1716 229.78) rotate(0.03) scale(1.0)" font-size="7.6" fill="#4a4a4a" textLength="22.2" lengthAdjust="spacingAndGlyphs">525.00</text>
<text transform="translate(1716 209.21) rotate(0.03) scale(1.0)" font-size="7.6" fill="#4a4a4a" textLength="22.2" lengthAdjust="spacingAndGlyphs">550.00</text>
<text transform="translate(1716 188.64) rotate(0.03) scale(1.0)" font-size="7.6" fill="#4a4a4a" textLength="22.2" lengthAdjust="spacingAndGlyphs">575.00</text>
<text transform="translate(1716 168.07) rotate(0.03) scale(1.0)" font-size="7.6" fill="#4a4a4a" textLength="22.2" lengthAdjust="spacingAndGlyphs">600.00</text>
<text transform="translate(1716 147.51) rotate(0.03) scale(1.0)" font-size="7.6" fill="#4a4a4a" textLength="22.2" lengthAdjust="spacingAndGlyphs">625.00</text>
<text transform="translate(1716 126.94) rotate(0.03) scale(1.0)" font-size="7.6" fill="#4a4a4a" textLength="22.2" lengthAdjust="spacingAndGlyphs">650.00</text>
<text transform="translate(1716 106.37) rotate(0.03) scale(1.0)" font-size="7.6" fill="#4a4a4a" textLength="22.2" lengthAdjust="spacingAndGlyphs">675.00</text>
<text transform="translate(1716 85.8) rotate(0.03) scale(1.0)" font-size="7.6" fill="#4a4a4a" textLength="22.2" lengthAdjust="spacingAndGlyphs">700.00</text>
<text transform="translate(1716 65.23) rotate(0.03) scale(1.0)" font-size="7.6" fill="#4a4a4a" textLength="22.2" lengthAdjust="spacingAndGlyphs">725.00</text>
<text transform="translate(1716 44.67) rotate(0.03) scale(1.0)" font-size="7.6" fill="#4a4a4a" textLength="22.2" lengthAdjust="spacingAndGlyphs">750.00</text>
<text transform="translate(1716 24.1) rotate(0.03) scale(1.0)" font-size="7.6" fill="#4a4a4a" textLength="22.2" lengthAdjust="spacingAndGlyphs">775.00</text>
</g>
<text transform="translate(1716 860.7) rotate(0.03) scale(1.0)" font-size="7.6" fill="#4a4a4a" textLength="26.2" lengthAdjust="spacingAndGlyphs">30.0000</text>
<text transform="translate(1716 828.2) rotate(0.03) scale(1.0)" font-size="7.6" fill="#4a4a4a" textLength="26.2" lengthAdjust="spacingAndGlyphs">40.0000</text>
<text transform="translate(1716 795.7) rotate(0.03) scale(1.0)" font-size="7.6" fill="#4a4a4a" textLength="26.2" lengthAdjust="spacingAndGlyphs">50.0000</text>
<text transform="translate(1716 763.2) rotate(0.03) scale(1.0)" font-size="7.6" fill="#4a4a4a" textLength="26.2" lengthAdjust="spacingAndGlyphs">60.0000</text>
<text transform="translate(1716 730.7) rotate(0.03) scale(1.0)" font-size="7.6" fill="#4a4a4a" textLength="26.2" lengthAdjust="spacingAndGlyphs">70.0000</text>
<text transform="translate(1716 698.2) rotate(0.03) scale(1.0)" font-size="7.6" fill="#4a4a4a" textLength="26.2" lengthAdjust="spacingAndGlyphs">80.0000</text>
<text transform="translate(1716 665.7) rotate(0.03) scale(1.0)" font-size="7.6" fill="#4a4a4a" textLength="26.2" lengthAdjust="spacingAndGlyphs">90.0000</text>
<text transform="translate(102.7 884.2) rotate(0.03) scale(1.0)" font-size="7.3" fill="#3a3a3a" textLength="15.9" lengthAdjust="spacingAndGlyphs" font-weight="bold" text-anchor="middle">2016</text>
<text transform="translate(235.1 884.2) rotate(0.03) scale(1.0)" font-size="7.3" fill="#3a3a3a" textLength="15.9" lengthAdjust="spacingAndGlyphs" font-weight="bold" text-anchor="middle">2017</text>
<text transform="translate(368.1 884.2) rotate(0.03) scale(1.0)" font-size="7.3" fill="#3a3a3a" textLength="15.9" lengthAdjust="spacingAndGlyphs" font-weight="bold" text-anchor="middle">2018</text>
<text transform="translate(503.1 884.2) rotate(0.03) scale(1.0)" font-size="7.3" fill="#3a3a3a" textLength="15.9" lengthAdjust="spacingAndGlyphs" font-weight="bold" text-anchor="middle">2019</text>
<text transform="translate(635.9 884.2) rotate(0.03) scale(1.0)" font-size="7.3" fill="#3a3a3a" textLength="15.9" lengthAdjust="spacingAndGlyphs" font-weight="bold" text-anchor="middle">2020</text>
<text transform="translate(768.1 884.2) rotate(0.03) scale(1.0)" font-size="7.3" fill="#3a3a3a" textLength="15.9" lengthAdjust="spacingAndGlyphs" font-weight="bold" text-anchor="middle">2021</text>
<text transform="translate(901.3 884.2) rotate(0.03) scale(1.0)" font-size="7.3" fill="#3a3a3a" textLength="15.9" lengthAdjust="spacingAndGlyphs" font-weight="bold" text-anchor="middle">2022</text>
<text transform="translate(1033 884.2) rotate(0.03) scale(1.0)" font-size="7.3" fill="#3a3a3a" textLength="15.9" lengthAdjust="spacingAndGlyphs" font-weight="bold" text-anchor="middle">2023</text>
<text transform="translate(1166.2 884.2) rotate(0.03) scale(1.0)" font-size="7.3" fill="#3a3a3a" textLength="15.9" lengthAdjust="spacingAndGlyphs" font-weight="bold" text-anchor="middle">2024</text>
<text transform="translate(1301 884.2) rotate(0.03) scale(1.0)" font-size="7.3" fill="#3a3a3a" textLength="15.9" lengthAdjust="spacingAndGlyphs" font-weight="bold" text-anchor="middle">2025</text>
<text transform="translate(1434.1 884.2) rotate(0.03) scale(1.0)" font-size="7.3" fill="#3a3a3a" textLength="15.9" lengthAdjust="spacingAndGlyphs" font-weight="bold" text-anchor="middle">2026</text>
<text transform="translate(1566.3 884.2) rotate(0.03) scale(1.0)" font-size="7.3" fill="#3a3a3a" textLength="15.9" lengthAdjust="spacingAndGlyphs" font-weight="bold" text-anchor="middle">2027</text>
<text transform="translate(1699.4 884.2) rotate(0.03) scale(1.0)" font-size="7.3" fill="#3a3a3a" textLength="15.9" lengthAdjust="spacingAndGlyphs" font-weight="bold" text-anchor="middle">2028</text>
<text transform="translate(23.7 884.2) rotate(0.03) scale(1.0)" font-size="7.3" fill="#4a4a4a" textLength="11.6" lengthAdjust="spacingAndGlyphs" text-anchor="middle">Jun</text>
<text transform="translate(158.7 884.2) rotate(0.03) scale(1.0)" font-size="7.3" fill="#4a4a4a" textLength="11.6" lengthAdjust="spacingAndGlyphs" text-anchor="middle">Jun</text>
<text transform="translate(291.5 884.2) rotate(0.03) scale(1.0)" font-size="7.3" fill="#4a4a4a" textLength="11.6" lengthAdjust="spacingAndGlyphs" text-anchor="middle">Jun</text>
<text transform="translate(423.9 884.2) rotate(0.03) scale(1.0)" font-size="7.3" fill="#4a4a4a" textLength="11.6" lengthAdjust="spacingAndGlyphs" text-anchor="middle">Jun</text>
<text transform="translate(556.6 884.2) rotate(0.03) scale(1.0)" font-size="7.3" fill="#4a4a4a" textLength="11.6" lengthAdjust="spacingAndGlyphs" text-anchor="middle">Jun</text>
<text transform="translate(689 884.2) rotate(0.03) scale(1.0)" font-size="7.3" fill="#4a4a4a" textLength="11.6" lengthAdjust="spacingAndGlyphs" text-anchor="middle">Jun</text>
<text transform="translate(824.4 884.2) rotate(0.03) scale(1.0)" font-size="7.3" fill="#4a4a4a" textLength="11.6" lengthAdjust="spacingAndGlyphs" text-anchor="middle">Jun</text>
<text transform="translate(957 884.2) rotate(0.03) scale(1.0)" font-size="7.3" fill="#4a4a4a" textLength="11.6" lengthAdjust="spacingAndGlyphs" text-anchor="middle">Jun</text>
<text transform="translate(1090 884.2) rotate(0.03) scale(1.0)" font-size="7.3" fill="#4a4a4a" textLength="11.6" lengthAdjust="spacingAndGlyphs" text-anchor="middle">Jun</text>
<text transform="translate(1222.2 884.2) rotate(0.03) scale(1.0)" font-size="7.3" fill="#4a4a4a" textLength="11.6" lengthAdjust="spacingAndGlyphs" text-anchor="middle">Jun</text>
<text transform="translate(1355.2 884.2) rotate(0.03) scale(1.0)" font-size="7.3" fill="#4a4a4a" textLength="11.6" lengthAdjust="spacingAndGlyphs" text-anchor="middle">Jun</text>
<text transform="translate(1487 884.2) rotate(0.03) scale(1.0)" font-size="7.3" fill="#4a4a4a" textLength="11.6" lengthAdjust="spacingAndGlyphs" text-anchor="middle">Jun</text>
<text transform="translate(1622.7 884.2) rotate(0.03) scale(1.0)" font-size="7.3" fill="#4a4a4a" textLength="11.6" lengthAdjust="spacingAndGlyphs" text-anchor="middle">Jun</text>
<rect x="1711.8" y="280.75" width="29.4" height="10.1" fill="#876612"/>
<text transform="translate(1716 288.55) rotate(0.03) scale(1.0)" font-size="7.6" fill="#fff" textLength="22.2" lengthAdjust="spacingAndGlyphs" stroke="#fff" stroke-width="0.18">453.43</text>
<rect x="1711.8" y="295.75" width="29.4" height="10.1" fill="#1212ee"/>
<text transform="translate(1716 303.55) rotate(0.03) scale(1.0)" font-size="7.6" fill="#fff" textLength="22.2" lengthAdjust="spacingAndGlyphs" stroke="#fff" stroke-width="0.18">435.03</text>
<rect x="1711.8" y="306.05" width="29.4" height="10.1" fill="#ee1212"/>
<text transform="translate(1716 313.85) rotate(0.03) scale(1.0)" font-size="7.6" fill="#fff" textLength="22.2" lengthAdjust="spacingAndGlyphs" stroke="#fff" stroke-width="0.18">431.04</text>
<rect x="1711.8" y="354.65" width="29.4" height="10.1" fill="#876612"/>
<text transform="translate(1716 362.45) rotate(0.03) scale(1.0)" font-size="7.6" fill="#fff" textLength="22.2" lengthAdjust="spacingAndGlyphs" stroke="#fff" stroke-width="0.18">363.00</text>
<rect x="1711.8" y="406.95" width="29.4" height="10.1" fill="#4a70dc"/>
<text transform="translate(1716 414.75) rotate(0.03) scale(1.0)" font-size="7.6" fill="#fff" textLength="22.2" lengthAdjust="spacingAndGlyphs" stroke="#fff" stroke-width="0.18">299.58</text>
<rect x="1711.8" y="837.75" width="33.6" height="10.1" fill="#800080"/>
<text transform="translate(1716 845.55) rotate(0.03) scale(1.0)" font-size="7.6" fill="#fff" textLength="26.2" lengthAdjust="spacingAndGlyphs" stroke="#fff" stroke-width="0.18">34.7214</text>
<text transform="translate(5.6 7.7) rotate(0.03) scale(1.0)" font-size="4.8" fill="#262626" textLength="164.3" lengthAdjust="spacingAndGlyphs">Published on Investing.com, 29/Jan/2026 - 11:02:45 GMT, Powered by TradingView.</text>
<text transform="translate(5.3 15.5) rotate(0.03) scale(1.0)" font-size="4.9" fill="#000" textLength="140" lengthAdjust="spacingAndGlyphs" font-weight="bold">Adobe Systems Incorporated, Estados Unidos, NASDAQ:ADBE, W</text>
<text transform="translate(6.2 26.3) rotate(0.03) scale(1.0)" font-size="4.5" fill="#2a2a2a" textLength="35.9" lengthAdjust="spacingAndGlyphs">MA (200, close, 0)</text>
<text transform="translate(6.2 30.7) rotate(0.03) scale(1.0)" font-size="4.5" fill="#2a2a2a" textLength="35.9" lengthAdjust="spacingAndGlyphs">MA (100, close, 0)</text>
<text transform="translate(6.2 35.3) rotate(0.03) scale(1.0)" font-size="4.5" fill="#2a2a2a" textLength="33.4" lengthAdjust="spacingAndGlyphs">MA (50, close, 0)</text>
<text transform="translate(6.2 658.2) rotate(0.03) scale(1.0)" font-size="4.5" fill="#2a2a2a" textLength="115.5" lengthAdjust="spacingAndGlyphs">Índice de fuerza relativa (RSI por sus siglas en inglés) (14)</text>
<text transform="translate(11.9 640.1) rotate(0.03) scale(1.0)" font-size="14.4" fill="#0a0a0a" textLength="59.3" lengthAdjust="spacingAndGlyphs" font-weight="bold" stroke="#0a0a0a" stroke-width="0.55">Investing</text>
<text transform="translate(71.8 640.1) rotate(0.03) scale(1.0)" font-size="10.3" fill="#5a5a5a" textLength="19.5" lengthAdjust="spacingAndGlyphs">.com</text>
<circle cx="53.2" cy="629.8" r="1.1" fill="#f0a52c"/>
</svg></body></html>
